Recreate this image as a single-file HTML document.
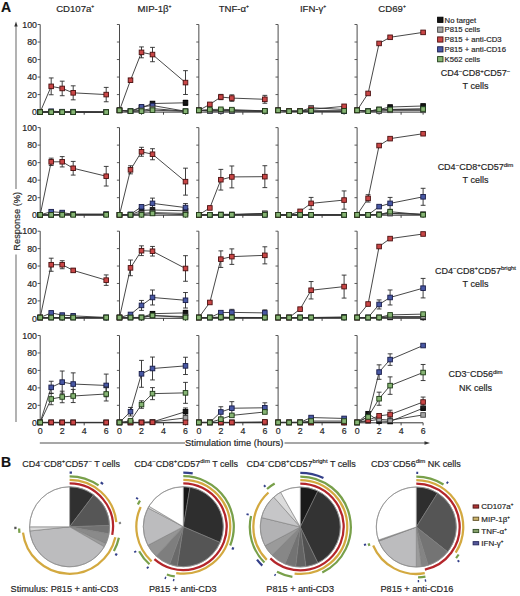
<!DOCTYPE html>
<html><head><meta charset="utf-8"><style>
html,body{margin:0;padding:0;background:#fff;}
svg{display:block;}
text{font-family:"Liberation Sans", sans-serif;stroke:#2a2a2a;stroke-width:0.18px;}
</style></head><body>
<svg width="520" height="596" viewBox="0 0 520 596" font-family="Liberation Sans, sans-serif">
<rect width="520" height="596" fill="#fff"/>
<path d="M40.20 112.10V24.50" stroke="#4a4a4a" stroke-width="1" fill="none"/>
<path d="M37.60 112.10H40.20M37.60 94.58H40.20M37.60 77.06H40.20M37.60 59.54H40.20M37.60 42.02H40.20M37.60 24.50H40.20" stroke="#4a4a4a" stroke-width="0.9" fill="none"/>
<path d="M40.20 112.10H106.20" stroke="#333" stroke-width="1" fill="none"/>
<path d="M62.20 112.10v2.6M84.20 112.10v2.6M106.20 112.10v2.6" stroke="#333" stroke-width="0.9" fill="none"/>
<polyline points="40.20,112.10 51.20,112.10 62.20,112.10 73.20,112.10 106.20,112.10" stroke="#333" stroke-width="0.9" fill="none"/>
<rect x="37.90" y="109.80" width="4.6" height="4.6" fill="#151515" stroke="#000000" stroke-width="0.9"/>
<rect x="48.90" y="109.80" width="4.6" height="4.6" fill="#151515" stroke="#000000" stroke-width="0.9"/>
<rect x="59.90" y="109.80" width="4.6" height="4.6" fill="#151515" stroke="#000000" stroke-width="0.9"/>
<rect x="70.90" y="109.80" width="4.6" height="4.6" fill="#151515" stroke="#000000" stroke-width="0.9"/>
<rect x="103.90" y="109.80" width="4.6" height="4.6" fill="#151515" stroke="#000000" stroke-width="0.9"/>
<polyline points="40.20,112.10 51.20,111.22 62.20,111.66 73.20,111.66 106.20,112.10" stroke="#333" stroke-width="0.9" fill="none"/>
<rect x="37.90" y="109.80" width="4.6" height="4.6" fill="#4858a4" stroke="#181c48" stroke-width="0.9"/>
<rect x="48.90" y="108.92" width="4.6" height="4.6" fill="#4858a4" stroke="#181c48" stroke-width="0.9"/>
<rect x="59.90" y="109.36" width="4.6" height="4.6" fill="#4858a4" stroke="#181c48" stroke-width="0.9"/>
<rect x="70.90" y="109.36" width="4.6" height="4.6" fill="#4858a4" stroke="#181c48" stroke-width="0.9"/>
<rect x="103.90" y="109.80" width="4.6" height="4.6" fill="#4858a4" stroke="#181c48" stroke-width="0.9"/>
<polyline points="40.20,112.10 51.20,112.10 62.20,112.10 73.20,112.10 106.20,112.10" stroke="#333" stroke-width="0.9" fill="none"/>
<rect x="37.90" y="109.80" width="4.6" height="4.6" fill="#a4a4a4" stroke="#444444" stroke-width="0.9"/>
<rect x="48.90" y="109.80" width="4.6" height="4.6" fill="#a4a4a4" stroke="#444444" stroke-width="0.9"/>
<rect x="59.90" y="109.80" width="4.6" height="4.6" fill="#a4a4a4" stroke="#444444" stroke-width="0.9"/>
<rect x="70.90" y="109.80" width="4.6" height="4.6" fill="#a4a4a4" stroke="#444444" stroke-width="0.9"/>
<rect x="103.90" y="109.80" width="4.6" height="4.6" fill="#a4a4a4" stroke="#444444" stroke-width="0.9"/>
<polyline points="40.20,112.10 51.20,86.35 62.20,88.45 73.20,92.83 106.20,94.58" stroke="#333" stroke-width="0.9" fill="none"/>
<path d="M51.20 77.94V94.76M48.80 77.94h4.8M48.80 94.76h4.8M62.20 81.18V95.72M59.80 81.18h4.8M59.80 95.72h4.8M73.20 85.82V99.84M70.80 85.82h4.8M70.80 99.84h4.8M106.20 87.40V101.76M103.80 87.40h4.8M103.80 101.76h4.8" stroke="#2a2a2a" stroke-width="0.9" fill="none"/>
<rect x="37.90" y="109.80" width="4.6" height="4.6" fill="#c94646" stroke="#4a1010" stroke-width="0.9"/>
<rect x="48.90" y="84.05" width="4.6" height="4.6" fill="#c94646" stroke="#4a1010" stroke-width="0.9"/>
<rect x="59.90" y="86.15" width="4.6" height="4.6" fill="#c94646" stroke="#4a1010" stroke-width="0.9"/>
<rect x="70.90" y="90.53" width="4.6" height="4.6" fill="#c94646" stroke="#4a1010" stroke-width="0.9"/>
<rect x="103.90" y="92.28" width="4.6" height="4.6" fill="#c94646" stroke="#4a1010" stroke-width="0.9"/>
<polyline points="40.20,112.10 51.20,112.10 62.20,112.10 73.20,112.10 106.20,112.10" stroke="#333" stroke-width="0.9" fill="none"/>
<rect x="37.90" y="109.80" width="4.6" height="4.6" fill="#86b474" stroke="#1d3a15" stroke-width="0.9"/>
<rect x="48.90" y="109.80" width="4.6" height="4.6" fill="#86b474" stroke="#1d3a15" stroke-width="0.9"/>
<rect x="59.90" y="109.80" width="4.6" height="4.6" fill="#86b474" stroke="#1d3a15" stroke-width="0.9"/>
<rect x="70.90" y="109.80" width="4.6" height="4.6" fill="#86b474" stroke="#1d3a15" stroke-width="0.9"/>
<rect x="103.90" y="109.80" width="4.6" height="4.6" fill="#86b474" stroke="#1d3a15" stroke-width="0.9"/>
<path d="M119.50 112.10V24.50" stroke="#4a4a4a" stroke-width="1" fill="none"/>
<path d="M116.90 112.10H119.50M116.90 94.58H119.50M116.90 77.06H119.50M116.90 59.54H119.50M116.90 42.02H119.50M116.90 24.50H119.50" stroke="#4a4a4a" stroke-width="0.9" fill="none"/>
<path d="M119.50 112.10H185.50" stroke="#333" stroke-width="1" fill="none"/>
<path d="M141.50 112.10v2.6M163.50 112.10v2.6M185.50 112.10v2.6" stroke="#333" stroke-width="0.9" fill="none"/>
<polyline points="119.50,110.35 130.50,111.22 141.50,107.72 152.50,103.52 185.50,102.81" stroke="#333" stroke-width="0.9" fill="none"/>
<path d="M185.50 100.19V105.44M183.10 100.19h4.8M183.10 105.44h4.8" stroke="#2a2a2a" stroke-width="0.9" fill="none"/>
<rect x="117.20" y="108.05" width="4.6" height="4.6" fill="#151515" stroke="#000000" stroke-width="0.9"/>
<rect x="128.20" y="108.92" width="4.6" height="4.6" fill="#151515" stroke="#000000" stroke-width="0.9"/>
<rect x="139.20" y="105.42" width="4.6" height="4.6" fill="#151515" stroke="#000000" stroke-width="0.9"/>
<rect x="150.20" y="101.22" width="4.6" height="4.6" fill="#151515" stroke="#000000" stroke-width="0.9"/>
<rect x="183.20" y="100.51" width="4.6" height="4.6" fill="#151515" stroke="#000000" stroke-width="0.9"/>
<polyline points="119.50,110.35 130.50,111.22 141.50,106.84 152.50,105.53 185.50,111.22" stroke="#333" stroke-width="0.9" fill="none"/>
<path d="M152.50 102.90V108.16M150.10 102.90h4.8M150.10 108.16h4.8" stroke="#2a2a2a" stroke-width="0.9" fill="none"/>
<rect x="117.20" y="108.05" width="4.6" height="4.6" fill="#4858a4" stroke="#181c48" stroke-width="0.9"/>
<rect x="128.20" y="108.92" width="4.6" height="4.6" fill="#4858a4" stroke="#181c48" stroke-width="0.9"/>
<rect x="139.20" y="104.54" width="4.6" height="4.6" fill="#4858a4" stroke="#181c48" stroke-width="0.9"/>
<rect x="150.20" y="103.23" width="4.6" height="4.6" fill="#4858a4" stroke="#181c48" stroke-width="0.9"/>
<rect x="183.20" y="108.92" width="4.6" height="4.6" fill="#4858a4" stroke="#181c48" stroke-width="0.9"/>
<polyline points="119.50,110.35 130.50,111.22 141.50,110.35 152.50,108.60 185.50,111.22" stroke="#333" stroke-width="0.9" fill="none"/>
<rect x="117.20" y="108.05" width="4.6" height="4.6" fill="#a4a4a4" stroke="#444444" stroke-width="0.9"/>
<rect x="128.20" y="108.92" width="4.6" height="4.6" fill="#a4a4a4" stroke="#444444" stroke-width="0.9"/>
<rect x="139.20" y="108.05" width="4.6" height="4.6" fill="#a4a4a4" stroke="#444444" stroke-width="0.9"/>
<rect x="150.20" y="106.30" width="4.6" height="4.6" fill="#a4a4a4" stroke="#444444" stroke-width="0.9"/>
<rect x="183.20" y="108.92" width="4.6" height="4.6" fill="#a4a4a4" stroke="#444444" stroke-width="0.9"/>
<polyline points="119.50,110.35 130.50,80.21 141.50,52.36 152.50,54.55 185.50,82.58" stroke="#333" stroke-width="0.9" fill="none"/>
<path d="M130.50 78.46V81.97M128.10 78.46h4.8M128.10 81.97h4.8M141.50 46.93V57.79M139.10 46.93h4.8M139.10 57.79h4.8M152.50 47.36V61.73M150.10 47.36h4.8M150.10 61.73h4.8M185.50 70.67V94.49M183.10 70.67h4.8M183.10 94.49h4.8" stroke="#2a2a2a" stroke-width="0.9" fill="none"/>
<rect x="117.20" y="108.05" width="4.6" height="4.6" fill="#c94646" stroke="#4a1010" stroke-width="0.9"/>
<rect x="128.20" y="77.91" width="4.6" height="4.6" fill="#c94646" stroke="#4a1010" stroke-width="0.9"/>
<rect x="139.20" y="50.06" width="4.6" height="4.6" fill="#c94646" stroke="#4a1010" stroke-width="0.9"/>
<rect x="150.20" y="52.25" width="4.6" height="4.6" fill="#c94646" stroke="#4a1010" stroke-width="0.9"/>
<rect x="183.20" y="80.28" width="4.6" height="4.6" fill="#c94646" stroke="#4a1010" stroke-width="0.9"/>
<polyline points="119.50,110.35 130.50,111.22 141.50,111.14 152.50,110.17 185.50,111.22" stroke="#333" stroke-width="0.9" fill="none"/>
<rect x="117.20" y="108.05" width="4.6" height="4.6" fill="#86b474" stroke="#1d3a15" stroke-width="0.9"/>
<rect x="128.20" y="108.92" width="4.6" height="4.6" fill="#86b474" stroke="#1d3a15" stroke-width="0.9"/>
<rect x="139.20" y="108.84" width="4.6" height="4.6" fill="#86b474" stroke="#1d3a15" stroke-width="0.9"/>
<rect x="150.20" y="107.87" width="4.6" height="4.6" fill="#86b474" stroke="#1d3a15" stroke-width="0.9"/>
<rect x="183.20" y="108.92" width="4.6" height="4.6" fill="#86b474" stroke="#1d3a15" stroke-width="0.9"/>
<path d="M198.85 112.10V24.50" stroke="#4a4a4a" stroke-width="1" fill="none"/>
<path d="M196.25 112.10H198.85M196.25 94.58H198.85M196.25 77.06H198.85M196.25 59.54H198.85M196.25 42.02H198.85M196.25 24.50H198.85" stroke="#4a4a4a" stroke-width="0.9" fill="none"/>
<path d="M198.85 112.10H264.85" stroke="#333" stroke-width="1" fill="none"/>
<path d="M220.85 112.10v2.6M242.85 112.10v2.6M264.85 112.10v2.6" stroke="#333" stroke-width="0.9" fill="none"/>
<polyline points="198.85,110.35 209.85,110.79 220.85,110.79 231.85,110.79 264.85,111.22" stroke="#333" stroke-width="0.9" fill="none"/>
<rect x="196.55" y="108.05" width="4.6" height="4.6" fill="#151515" stroke="#000000" stroke-width="0.9"/>
<rect x="207.55" y="108.49" width="4.6" height="4.6" fill="#151515" stroke="#000000" stroke-width="0.9"/>
<rect x="218.55" y="108.49" width="4.6" height="4.6" fill="#151515" stroke="#000000" stroke-width="0.9"/>
<rect x="229.55" y="108.49" width="4.6" height="4.6" fill="#151515" stroke="#000000" stroke-width="0.9"/>
<rect x="262.55" y="108.92" width="4.6" height="4.6" fill="#151515" stroke="#000000" stroke-width="0.9"/>
<polyline points="198.85,110.35 209.85,110.79 220.85,110.79 231.85,110.79 264.85,111.22" stroke="#333" stroke-width="0.9" fill="none"/>
<rect x="196.55" y="108.05" width="4.6" height="4.6" fill="#4858a4" stroke="#181c48" stroke-width="0.9"/>
<rect x="207.55" y="108.49" width="4.6" height="4.6" fill="#4858a4" stroke="#181c48" stroke-width="0.9"/>
<rect x="218.55" y="108.49" width="4.6" height="4.6" fill="#4858a4" stroke="#181c48" stroke-width="0.9"/>
<rect x="229.55" y="108.49" width="4.6" height="4.6" fill="#4858a4" stroke="#181c48" stroke-width="0.9"/>
<rect x="262.55" y="108.92" width="4.6" height="4.6" fill="#4858a4" stroke="#181c48" stroke-width="0.9"/>
<polyline points="198.85,110.35 209.85,110.79 220.85,110.79 231.85,110.79 264.85,111.22" stroke="#333" stroke-width="0.9" fill="none"/>
<rect x="196.55" y="108.05" width="4.6" height="4.6" fill="#a4a4a4" stroke="#444444" stroke-width="0.9"/>
<rect x="207.55" y="108.49" width="4.6" height="4.6" fill="#a4a4a4" stroke="#444444" stroke-width="0.9"/>
<rect x="218.55" y="108.49" width="4.6" height="4.6" fill="#a4a4a4" stroke="#444444" stroke-width="0.9"/>
<rect x="229.55" y="108.49" width="4.6" height="4.6" fill="#a4a4a4" stroke="#444444" stroke-width="0.9"/>
<rect x="262.55" y="108.92" width="4.6" height="4.6" fill="#a4a4a4" stroke="#444444" stroke-width="0.9"/>
<polyline points="198.85,110.35 209.85,104.39 220.85,97.03 231.85,98.08 264.85,99.31" stroke="#333" stroke-width="0.9" fill="none"/>
<path d="M220.85 94.40V99.66M218.45 94.40h4.8M218.45 99.66h4.8M231.85 94.84V101.33M229.45 94.84h4.8M229.45 101.33h4.8M264.85 95.37V103.25M262.45 95.37h4.8M262.45 103.25h4.8" stroke="#2a2a2a" stroke-width="0.9" fill="none"/>
<rect x="196.55" y="108.05" width="4.6" height="4.6" fill="#c94646" stroke="#4a1010" stroke-width="0.9"/>
<rect x="207.55" y="102.09" width="4.6" height="4.6" fill="#c94646" stroke="#4a1010" stroke-width="0.9"/>
<rect x="218.55" y="94.73" width="4.6" height="4.6" fill="#c94646" stroke="#4a1010" stroke-width="0.9"/>
<rect x="229.55" y="95.78" width="4.6" height="4.6" fill="#c94646" stroke="#4a1010" stroke-width="0.9"/>
<rect x="262.55" y="97.01" width="4.6" height="4.6" fill="#c94646" stroke="#4a1010" stroke-width="0.9"/>
<polyline points="198.85,110.35 209.85,109.56 220.85,109.30 231.85,109.65 264.85,110.87" stroke="#333" stroke-width="0.9" fill="none"/>
<rect x="196.55" y="108.05" width="4.6" height="4.6" fill="#86b474" stroke="#1d3a15" stroke-width="0.9"/>
<rect x="207.55" y="107.26" width="4.6" height="4.6" fill="#86b474" stroke="#1d3a15" stroke-width="0.9"/>
<rect x="218.55" y="107.00" width="4.6" height="4.6" fill="#86b474" stroke="#1d3a15" stroke-width="0.9"/>
<rect x="229.55" y="107.35" width="4.6" height="4.6" fill="#86b474" stroke="#1d3a15" stroke-width="0.9"/>
<rect x="262.55" y="108.57" width="4.6" height="4.6" fill="#86b474" stroke="#1d3a15" stroke-width="0.9"/>
<path d="M278.10 112.10V24.50" stroke="#4a4a4a" stroke-width="1" fill="none"/>
<path d="M275.50 112.10H278.10M275.50 94.58H278.10M275.50 77.06H278.10M275.50 59.54H278.10M275.50 42.02H278.10M275.50 24.50H278.10" stroke="#4a4a4a" stroke-width="0.9" fill="none"/>
<path d="M278.10 112.10H344.10" stroke="#333" stroke-width="1" fill="none"/>
<path d="M300.10 112.10v2.6M322.10 112.10v2.6M344.10 112.10v2.6" stroke="#333" stroke-width="0.9" fill="none"/>
<polyline points="278.10,110.35 289.10,111.22 300.10,111.22 311.10,111.22 344.10,111.22" stroke="#333" stroke-width="0.9" fill="none"/>
<rect x="275.80" y="108.05" width="4.6" height="4.6" fill="#151515" stroke="#000000" stroke-width="0.9"/>
<rect x="286.80" y="108.92" width="4.6" height="4.6" fill="#151515" stroke="#000000" stroke-width="0.9"/>
<rect x="297.80" y="108.92" width="4.6" height="4.6" fill="#151515" stroke="#000000" stroke-width="0.9"/>
<rect x="308.80" y="108.92" width="4.6" height="4.6" fill="#151515" stroke="#000000" stroke-width="0.9"/>
<rect x="341.80" y="108.92" width="4.6" height="4.6" fill="#151515" stroke="#000000" stroke-width="0.9"/>
<polyline points="278.10,110.35 289.10,111.22 300.10,111.22 311.10,111.22 344.10,111.22" stroke="#333" stroke-width="0.9" fill="none"/>
<rect x="275.80" y="108.05" width="4.6" height="4.6" fill="#4858a4" stroke="#181c48" stroke-width="0.9"/>
<rect x="286.80" y="108.92" width="4.6" height="4.6" fill="#4858a4" stroke="#181c48" stroke-width="0.9"/>
<rect x="297.80" y="108.92" width="4.6" height="4.6" fill="#4858a4" stroke="#181c48" stroke-width="0.9"/>
<rect x="308.80" y="108.92" width="4.6" height="4.6" fill="#4858a4" stroke="#181c48" stroke-width="0.9"/>
<rect x="341.80" y="108.92" width="4.6" height="4.6" fill="#4858a4" stroke="#181c48" stroke-width="0.9"/>
<polyline points="278.10,110.35 289.10,111.22 300.10,111.22 311.10,107.72 344.10,109.47" stroke="#333" stroke-width="0.9" fill="none"/>
<rect x="275.80" y="108.05" width="4.6" height="4.6" fill="#a4a4a4" stroke="#444444" stroke-width="0.9"/>
<rect x="286.80" y="108.92" width="4.6" height="4.6" fill="#a4a4a4" stroke="#444444" stroke-width="0.9"/>
<rect x="297.80" y="108.92" width="4.6" height="4.6" fill="#a4a4a4" stroke="#444444" stroke-width="0.9"/>
<rect x="308.80" y="105.42" width="4.6" height="4.6" fill="#a4a4a4" stroke="#444444" stroke-width="0.9"/>
<rect x="341.80" y="107.17" width="4.6" height="4.6" fill="#a4a4a4" stroke="#444444" stroke-width="0.9"/>
<polyline points="278.10,110.35 289.10,111.22 300.10,111.22 311.10,109.30 344.10,106.32" stroke="#333" stroke-width="0.9" fill="none"/>
<rect x="275.80" y="108.05" width="4.6" height="4.6" fill="#c94646" stroke="#4a1010" stroke-width="0.9"/>
<rect x="286.80" y="108.92" width="4.6" height="4.6" fill="#c94646" stroke="#4a1010" stroke-width="0.9"/>
<rect x="297.80" y="108.92" width="4.6" height="4.6" fill="#c94646" stroke="#4a1010" stroke-width="0.9"/>
<rect x="308.80" y="107.00" width="4.6" height="4.6" fill="#c94646" stroke="#4a1010" stroke-width="0.9"/>
<rect x="341.80" y="104.02" width="4.6" height="4.6" fill="#c94646" stroke="#4a1010" stroke-width="0.9"/>
<polyline points="278.10,110.35 289.10,111.22 300.10,111.22 311.10,110.79 344.10,110.87" stroke="#333" stroke-width="0.9" fill="none"/>
<rect x="275.80" y="108.05" width="4.6" height="4.6" fill="#86b474" stroke="#1d3a15" stroke-width="0.9"/>
<rect x="286.80" y="108.92" width="4.6" height="4.6" fill="#86b474" stroke="#1d3a15" stroke-width="0.9"/>
<rect x="297.80" y="108.92" width="4.6" height="4.6" fill="#86b474" stroke="#1d3a15" stroke-width="0.9"/>
<rect x="308.80" y="108.49" width="4.6" height="4.6" fill="#86b474" stroke="#1d3a15" stroke-width="0.9"/>
<rect x="341.80" y="108.57" width="4.6" height="4.6" fill="#86b474" stroke="#1d3a15" stroke-width="0.9"/>
<path d="M357.10 112.10V24.50" stroke="#4a4a4a" stroke-width="1" fill="none"/>
<path d="M354.50 112.10H357.10M354.50 94.58H357.10M354.50 77.06H357.10M354.50 59.54H357.10M354.50 42.02H357.10M354.50 24.50H357.10" stroke="#4a4a4a" stroke-width="0.9" fill="none"/>
<path d="M357.10 112.10H423.10" stroke="#333" stroke-width="1" fill="none"/>
<path d="M379.10 112.10v2.6M401.10 112.10v2.6M423.10 112.10v2.6" stroke="#333" stroke-width="0.9" fill="none"/>
<polyline points="357.10,110.35 368.10,111.22 379.10,109.47 390.10,107.02 423.10,105.97" stroke="#333" stroke-width="0.9" fill="none"/>
<rect x="354.80" y="108.05" width="4.6" height="4.6" fill="#151515" stroke="#000000" stroke-width="0.9"/>
<rect x="365.80" y="108.92" width="4.6" height="4.6" fill="#151515" stroke="#000000" stroke-width="0.9"/>
<rect x="376.80" y="107.17" width="4.6" height="4.6" fill="#151515" stroke="#000000" stroke-width="0.9"/>
<rect x="387.80" y="104.72" width="4.6" height="4.6" fill="#151515" stroke="#000000" stroke-width="0.9"/>
<rect x="420.80" y="103.67" width="4.6" height="4.6" fill="#151515" stroke="#000000" stroke-width="0.9"/>
<polyline points="357.10,110.35 368.10,111.22 379.10,110.35 390.10,109.47 423.10,109.03" stroke="#333" stroke-width="0.9" fill="none"/>
<rect x="354.80" y="108.05" width="4.6" height="4.6" fill="#4858a4" stroke="#181c48" stroke-width="0.9"/>
<rect x="365.80" y="108.92" width="4.6" height="4.6" fill="#4858a4" stroke="#181c48" stroke-width="0.9"/>
<rect x="376.80" y="108.05" width="4.6" height="4.6" fill="#4858a4" stroke="#181c48" stroke-width="0.9"/>
<rect x="387.80" y="107.17" width="4.6" height="4.6" fill="#4858a4" stroke="#181c48" stroke-width="0.9"/>
<rect x="420.80" y="106.73" width="4.6" height="4.6" fill="#4858a4" stroke="#181c48" stroke-width="0.9"/>
<polyline points="357.10,110.35 368.10,111.22 379.10,111.22 390.10,110.35 423.10,110.35" stroke="#333" stroke-width="0.9" fill="none"/>
<rect x="354.80" y="108.05" width="4.6" height="4.6" fill="#a4a4a4" stroke="#444444" stroke-width="0.9"/>
<rect x="365.80" y="108.92" width="4.6" height="4.6" fill="#a4a4a4" stroke="#444444" stroke-width="0.9"/>
<rect x="376.80" y="108.92" width="4.6" height="4.6" fill="#a4a4a4" stroke="#444444" stroke-width="0.9"/>
<rect x="387.80" y="108.05" width="4.6" height="4.6" fill="#a4a4a4" stroke="#444444" stroke-width="0.9"/>
<rect x="420.80" y="108.05" width="4.6" height="4.6" fill="#a4a4a4" stroke="#444444" stroke-width="0.9"/>
<polyline points="357.10,110.35 368.10,93.44 379.10,43.42 390.10,37.29 423.10,32.38" stroke="#333" stroke-width="0.9" fill="none"/>
<rect x="354.80" y="108.05" width="4.6" height="4.6" fill="#c94646" stroke="#4a1010" stroke-width="0.9"/>
<rect x="365.80" y="91.14" width="4.6" height="4.6" fill="#c94646" stroke="#4a1010" stroke-width="0.9"/>
<rect x="376.80" y="41.12" width="4.6" height="4.6" fill="#c94646" stroke="#4a1010" stroke-width="0.9"/>
<rect x="387.80" y="34.99" width="4.6" height="4.6" fill="#c94646" stroke="#4a1010" stroke-width="0.9"/>
<rect x="420.80" y="30.08" width="4.6" height="4.6" fill="#c94646" stroke="#4a1010" stroke-width="0.9"/>
<polyline points="357.10,110.35 368.10,111.22 379.10,109.47 390.10,109.47 423.10,109.03" stroke="#333" stroke-width="0.9" fill="none"/>
<rect x="354.80" y="108.05" width="4.6" height="4.6" fill="#86b474" stroke="#1d3a15" stroke-width="0.9"/>
<rect x="365.80" y="108.92" width="4.6" height="4.6" fill="#86b474" stroke="#1d3a15" stroke-width="0.9"/>
<rect x="376.80" y="107.17" width="4.6" height="4.6" fill="#86b474" stroke="#1d3a15" stroke-width="0.9"/>
<rect x="387.80" y="107.17" width="4.6" height="4.6" fill="#86b474" stroke="#1d3a15" stroke-width="0.9"/>
<rect x="420.80" y="106.73" width="4.6" height="4.6" fill="#86b474" stroke="#1d3a15" stroke-width="0.9"/>
<path d="M40.20 215.20V127.60" stroke="#4a4a4a" stroke-width="1" fill="none"/>
<path d="M37.60 215.20H40.20M37.60 197.68H40.20M37.60 180.16H40.20M37.60 162.64H40.20M37.60 145.12H40.20M37.60 127.60H40.20" stroke="#4a4a4a" stroke-width="0.9" fill="none"/>
<path d="M40.20 215.20H106.20" stroke="#333" stroke-width="1" fill="none"/>
<path d="M62.20 215.20v2.6M84.20 215.20v2.6M106.20 215.20v2.6" stroke="#333" stroke-width="0.9" fill="none"/>
<polyline points="40.20,214.85 51.20,214.85 62.20,214.32 73.20,214.32 106.20,214.32" stroke="#333" stroke-width="0.9" fill="none"/>
<rect x="37.90" y="212.55" width="4.6" height="4.6" fill="#151515" stroke="#000000" stroke-width="0.9"/>
<rect x="48.90" y="212.55" width="4.6" height="4.6" fill="#151515" stroke="#000000" stroke-width="0.9"/>
<rect x="59.90" y="212.02" width="4.6" height="4.6" fill="#151515" stroke="#000000" stroke-width="0.9"/>
<rect x="70.90" y="212.02" width="4.6" height="4.6" fill="#151515" stroke="#000000" stroke-width="0.9"/>
<rect x="103.90" y="212.02" width="4.6" height="4.6" fill="#151515" stroke="#000000" stroke-width="0.9"/>
<polyline points="40.20,214.85 51.20,211.70 62.20,212.57 73.20,214.32 106.20,214.32" stroke="#333" stroke-width="0.9" fill="none"/>
<rect x="37.90" y="212.55" width="4.6" height="4.6" fill="#4858a4" stroke="#181c48" stroke-width="0.9"/>
<rect x="48.90" y="209.40" width="4.6" height="4.6" fill="#4858a4" stroke="#181c48" stroke-width="0.9"/>
<rect x="59.90" y="210.27" width="4.6" height="4.6" fill="#4858a4" stroke="#181c48" stroke-width="0.9"/>
<rect x="70.90" y="212.02" width="4.6" height="4.6" fill="#4858a4" stroke="#181c48" stroke-width="0.9"/>
<rect x="103.90" y="212.02" width="4.6" height="4.6" fill="#4858a4" stroke="#181c48" stroke-width="0.9"/>
<polyline points="40.20,214.85 51.20,214.85 62.20,214.32 73.20,214.32 106.20,214.32" stroke="#333" stroke-width="0.9" fill="none"/>
<rect x="37.90" y="212.55" width="4.6" height="4.6" fill="#a4a4a4" stroke="#444444" stroke-width="0.9"/>
<rect x="48.90" y="212.55" width="4.6" height="4.6" fill="#a4a4a4" stroke="#444444" stroke-width="0.9"/>
<rect x="59.90" y="212.02" width="4.6" height="4.6" fill="#a4a4a4" stroke="#444444" stroke-width="0.9"/>
<rect x="70.90" y="212.02" width="4.6" height="4.6" fill="#a4a4a4" stroke="#444444" stroke-width="0.9"/>
<rect x="103.90" y="212.02" width="4.6" height="4.6" fill="#a4a4a4" stroke="#444444" stroke-width="0.9"/>
<polyline points="40.20,214.85 51.20,161.85 62.20,161.76 73.20,168.25 106.20,176.22" stroke="#333" stroke-width="0.9" fill="none"/>
<path d="M51.20 158.17V165.53M48.80 158.17h4.8M48.80 165.53h4.8M62.20 156.60V166.93M59.80 156.60h4.8M59.80 166.93h4.8M73.20 161.41V175.08M70.80 161.41h4.8M70.80 175.08h4.8M106.20 166.41V186.03M103.80 166.41h4.8M103.80 186.03h4.8" stroke="#2a2a2a" stroke-width="0.9" fill="none"/>
<rect x="37.90" y="212.55" width="4.6" height="4.6" fill="#c94646" stroke="#4a1010" stroke-width="0.9"/>
<rect x="48.90" y="159.55" width="4.6" height="4.6" fill="#c94646" stroke="#4a1010" stroke-width="0.9"/>
<rect x="59.90" y="159.46" width="4.6" height="4.6" fill="#c94646" stroke="#4a1010" stroke-width="0.9"/>
<rect x="70.90" y="165.95" width="4.6" height="4.6" fill="#c94646" stroke="#4a1010" stroke-width="0.9"/>
<rect x="103.90" y="173.92" width="4.6" height="4.6" fill="#c94646" stroke="#4a1010" stroke-width="0.9"/>
<polyline points="40.20,214.85 51.20,214.85 62.20,214.85 73.20,214.85 106.20,214.85" stroke="#333" stroke-width="0.9" fill="none"/>
<rect x="37.90" y="212.55" width="4.6" height="4.6" fill="#86b474" stroke="#1d3a15" stroke-width="0.9"/>
<rect x="48.90" y="212.55" width="4.6" height="4.6" fill="#86b474" stroke="#1d3a15" stroke-width="0.9"/>
<rect x="59.90" y="212.55" width="4.6" height="4.6" fill="#86b474" stroke="#1d3a15" stroke-width="0.9"/>
<rect x="70.90" y="212.55" width="4.6" height="4.6" fill="#86b474" stroke="#1d3a15" stroke-width="0.9"/>
<rect x="103.90" y="212.55" width="4.6" height="4.6" fill="#86b474" stroke="#1d3a15" stroke-width="0.9"/>
<path d="M119.50 215.20V127.60" stroke="#4a4a4a" stroke-width="1" fill="none"/>
<path d="M116.90 215.20H119.50M116.90 197.68H119.50M116.90 180.16H119.50M116.90 162.64H119.50M116.90 145.12H119.50M116.90 127.60H119.50" stroke="#4a4a4a" stroke-width="0.9" fill="none"/>
<path d="M119.50 215.20H185.50" stroke="#333" stroke-width="1" fill="none"/>
<path d="M141.50 215.20v2.6M163.50 215.20v2.6M185.50 215.20v2.6" stroke="#333" stroke-width="0.9" fill="none"/>
<polyline points="119.50,214.85 130.50,214.85 141.50,210.38 152.50,209.94 185.50,210.82" stroke="#333" stroke-width="0.9" fill="none"/>
<rect x="117.20" y="212.55" width="4.6" height="4.6" fill="#151515" stroke="#000000" stroke-width="0.9"/>
<rect x="128.20" y="212.55" width="4.6" height="4.6" fill="#151515" stroke="#000000" stroke-width="0.9"/>
<rect x="139.20" y="208.08" width="4.6" height="4.6" fill="#151515" stroke="#000000" stroke-width="0.9"/>
<rect x="150.20" y="207.64" width="4.6" height="4.6" fill="#151515" stroke="#000000" stroke-width="0.9"/>
<rect x="183.20" y="208.52" width="4.6" height="4.6" fill="#151515" stroke="#000000" stroke-width="0.9"/>
<polyline points="119.50,214.85 130.50,214.32 141.50,206.79 152.50,203.37 185.50,207.58" stroke="#333" stroke-width="0.9" fill="none"/>
<path d="M152.50 198.12V208.63M150.10 198.12h4.8M150.10 208.63h4.8M185.50 203.55V211.61M183.10 203.55h4.8M183.10 211.61h4.8" stroke="#2a2a2a" stroke-width="0.9" fill="none"/>
<rect x="117.20" y="212.55" width="4.6" height="4.6" fill="#4858a4" stroke="#181c48" stroke-width="0.9"/>
<rect x="128.20" y="212.02" width="4.6" height="4.6" fill="#4858a4" stroke="#181c48" stroke-width="0.9"/>
<rect x="139.20" y="204.49" width="4.6" height="4.6" fill="#4858a4" stroke="#181c48" stroke-width="0.9"/>
<rect x="150.20" y="201.07" width="4.6" height="4.6" fill="#4858a4" stroke="#181c48" stroke-width="0.9"/>
<rect x="183.20" y="205.28" width="4.6" height="4.6" fill="#4858a4" stroke="#181c48" stroke-width="0.9"/>
<polyline points="119.50,214.85 130.50,214.85 141.50,213.45 152.50,212.57 185.50,213.45" stroke="#333" stroke-width="0.9" fill="none"/>
<rect x="117.20" y="212.55" width="4.6" height="4.6" fill="#a4a4a4" stroke="#444444" stroke-width="0.9"/>
<rect x="128.20" y="212.55" width="4.6" height="4.6" fill="#a4a4a4" stroke="#444444" stroke-width="0.9"/>
<rect x="139.20" y="211.15" width="4.6" height="4.6" fill="#a4a4a4" stroke="#444444" stroke-width="0.9"/>
<rect x="150.20" y="210.27" width="4.6" height="4.6" fill="#a4a4a4" stroke="#444444" stroke-width="0.9"/>
<rect x="183.20" y="211.15" width="4.6" height="4.6" fill="#a4a4a4" stroke="#444444" stroke-width="0.9"/>
<polyline points="119.50,214.85 130.50,169.82 141.50,151.78 152.50,154.23 185.50,181.65" stroke="#333" stroke-width="0.9" fill="none"/>
<path d="M130.50 165.79V173.85M128.10 165.79h4.8M128.10 173.85h4.8M141.50 147.31V156.25M139.10 147.31h4.8M139.10 156.25h4.8M152.50 148.71V159.75M150.10 148.71h4.8M150.10 159.75h4.8M185.50 168.16V195.14M183.10 168.16h4.8M183.10 195.14h4.8" stroke="#2a2a2a" stroke-width="0.9" fill="none"/>
<rect x="117.20" y="212.55" width="4.6" height="4.6" fill="#c94646" stroke="#4a1010" stroke-width="0.9"/>
<rect x="128.20" y="167.52" width="4.6" height="4.6" fill="#c94646" stroke="#4a1010" stroke-width="0.9"/>
<rect x="139.20" y="149.48" width="4.6" height="4.6" fill="#c94646" stroke="#4a1010" stroke-width="0.9"/>
<rect x="150.20" y="151.93" width="4.6" height="4.6" fill="#c94646" stroke="#4a1010" stroke-width="0.9"/>
<rect x="183.20" y="179.35" width="4.6" height="4.6" fill="#c94646" stroke="#4a1010" stroke-width="0.9"/>
<polyline points="119.50,214.85 130.50,214.85 141.50,214.85 152.50,213.45 185.50,214.76" stroke="#333" stroke-width="0.9" fill="none"/>
<rect x="117.20" y="212.55" width="4.6" height="4.6" fill="#86b474" stroke="#1d3a15" stroke-width="0.9"/>
<rect x="128.20" y="212.55" width="4.6" height="4.6" fill="#86b474" stroke="#1d3a15" stroke-width="0.9"/>
<rect x="139.20" y="212.55" width="4.6" height="4.6" fill="#86b474" stroke="#1d3a15" stroke-width="0.9"/>
<rect x="150.20" y="211.15" width="4.6" height="4.6" fill="#86b474" stroke="#1d3a15" stroke-width="0.9"/>
<rect x="183.20" y="212.46" width="4.6" height="4.6" fill="#86b474" stroke="#1d3a15" stroke-width="0.9"/>
<path d="M198.85 215.20V127.60" stroke="#4a4a4a" stroke-width="1" fill="none"/>
<path d="M196.25 215.20H198.85M196.25 197.68H198.85M196.25 180.16H198.85M196.25 162.64H198.85M196.25 145.12H198.85M196.25 127.60H198.85" stroke="#4a4a4a" stroke-width="0.9" fill="none"/>
<path d="M198.85 215.20H264.85" stroke="#333" stroke-width="1" fill="none"/>
<path d="M220.85 215.20v2.6M242.85 215.20v2.6M264.85 215.20v2.6" stroke="#333" stroke-width="0.9" fill="none"/>
<polyline points="198.85,214.85 209.85,214.85 220.85,214.85 231.85,214.85 264.85,213.45" stroke="#333" stroke-width="0.9" fill="none"/>
<rect x="196.55" y="212.55" width="4.6" height="4.6" fill="#151515" stroke="#000000" stroke-width="0.9"/>
<rect x="207.55" y="212.55" width="4.6" height="4.6" fill="#151515" stroke="#000000" stroke-width="0.9"/>
<rect x="218.55" y="212.55" width="4.6" height="4.6" fill="#151515" stroke="#000000" stroke-width="0.9"/>
<rect x="229.55" y="212.55" width="4.6" height="4.6" fill="#151515" stroke="#000000" stroke-width="0.9"/>
<rect x="262.55" y="211.15" width="4.6" height="4.6" fill="#151515" stroke="#000000" stroke-width="0.9"/>
<polyline points="198.85,214.85 209.85,214.85 220.85,214.85 231.85,214.85 264.85,214.85" stroke="#333" stroke-width="0.9" fill="none"/>
<rect x="196.55" y="212.55" width="4.6" height="4.6" fill="#4858a4" stroke="#181c48" stroke-width="0.9"/>
<rect x="207.55" y="212.55" width="4.6" height="4.6" fill="#4858a4" stroke="#181c48" stroke-width="0.9"/>
<rect x="218.55" y="212.55" width="4.6" height="4.6" fill="#4858a4" stroke="#181c48" stroke-width="0.9"/>
<rect x="229.55" y="212.55" width="4.6" height="4.6" fill="#4858a4" stroke="#181c48" stroke-width="0.9"/>
<rect x="262.55" y="212.55" width="4.6" height="4.6" fill="#4858a4" stroke="#181c48" stroke-width="0.9"/>
<polyline points="198.85,214.85 209.85,214.85 220.85,214.32 231.85,214.32 264.85,213.45" stroke="#333" stroke-width="0.9" fill="none"/>
<rect x="196.55" y="212.55" width="4.6" height="4.6" fill="#a4a4a4" stroke="#444444" stroke-width="0.9"/>
<rect x="207.55" y="212.55" width="4.6" height="4.6" fill="#a4a4a4" stroke="#444444" stroke-width="0.9"/>
<rect x="218.55" y="212.02" width="4.6" height="4.6" fill="#a4a4a4" stroke="#444444" stroke-width="0.9"/>
<rect x="229.55" y="212.02" width="4.6" height="4.6" fill="#a4a4a4" stroke="#444444" stroke-width="0.9"/>
<rect x="262.55" y="211.15" width="4.6" height="4.6" fill="#a4a4a4" stroke="#444444" stroke-width="0.9"/>
<polyline points="198.85,214.85 209.85,207.93 220.85,179.72 231.85,176.92 264.85,176.66" stroke="#333" stroke-width="0.9" fill="none"/>
<path d="M220.85 169.39V190.06M218.45 169.39h4.8M218.45 190.06h4.8M231.85 165.97V187.87M229.45 165.97h4.8M229.45 187.87h4.8M264.85 165.71V187.61M262.45 165.71h4.8M262.45 187.61h4.8" stroke="#2a2a2a" stroke-width="0.9" fill="none"/>
<rect x="196.55" y="212.55" width="4.6" height="4.6" fill="#c94646" stroke="#4a1010" stroke-width="0.9"/>
<rect x="207.55" y="205.63" width="4.6" height="4.6" fill="#c94646" stroke="#4a1010" stroke-width="0.9"/>
<rect x="218.55" y="177.42" width="4.6" height="4.6" fill="#c94646" stroke="#4a1010" stroke-width="0.9"/>
<rect x="229.55" y="174.62" width="4.6" height="4.6" fill="#c94646" stroke="#4a1010" stroke-width="0.9"/>
<rect x="262.55" y="174.36" width="4.6" height="4.6" fill="#c94646" stroke="#4a1010" stroke-width="0.9"/>
<polyline points="198.85,214.85 209.85,214.85 220.85,214.85 231.85,214.85 264.85,214.85" stroke="#333" stroke-width="0.9" fill="none"/>
<rect x="196.55" y="212.55" width="4.6" height="4.6" fill="#86b474" stroke="#1d3a15" stroke-width="0.9"/>
<rect x="207.55" y="212.55" width="4.6" height="4.6" fill="#86b474" stroke="#1d3a15" stroke-width="0.9"/>
<rect x="218.55" y="212.55" width="4.6" height="4.6" fill="#86b474" stroke="#1d3a15" stroke-width="0.9"/>
<rect x="229.55" y="212.55" width="4.6" height="4.6" fill="#86b474" stroke="#1d3a15" stroke-width="0.9"/>
<rect x="262.55" y="212.55" width="4.6" height="4.6" fill="#86b474" stroke="#1d3a15" stroke-width="0.9"/>
<path d="M278.10 215.20V127.60" stroke="#4a4a4a" stroke-width="1" fill="none"/>
<path d="M275.50 215.20H278.10M275.50 197.68H278.10M275.50 180.16H278.10M275.50 162.64H278.10M275.50 145.12H278.10M275.50 127.60H278.10" stroke="#4a4a4a" stroke-width="0.9" fill="none"/>
<path d="M278.10 215.20H344.10" stroke="#333" stroke-width="1" fill="none"/>
<path d="M300.10 215.20v2.6M322.10 215.20v2.6M344.10 215.20v2.6" stroke="#333" stroke-width="0.9" fill="none"/>
<polyline points="278.10,214.85 289.10,214.85 300.10,214.85 311.10,214.85 344.10,214.85" stroke="#333" stroke-width="0.9" fill="none"/>
<rect x="275.80" y="212.55" width="4.6" height="4.6" fill="#151515" stroke="#000000" stroke-width="0.9"/>
<rect x="286.80" y="212.55" width="4.6" height="4.6" fill="#151515" stroke="#000000" stroke-width="0.9"/>
<rect x="297.80" y="212.55" width="4.6" height="4.6" fill="#151515" stroke="#000000" stroke-width="0.9"/>
<rect x="308.80" y="212.55" width="4.6" height="4.6" fill="#151515" stroke="#000000" stroke-width="0.9"/>
<rect x="341.80" y="212.55" width="4.6" height="4.6" fill="#151515" stroke="#000000" stroke-width="0.9"/>
<polyline points="278.10,214.85 289.10,214.85 300.10,214.85 311.10,214.85 344.10,214.85" stroke="#333" stroke-width="0.9" fill="none"/>
<rect x="275.80" y="212.55" width="4.6" height="4.6" fill="#4858a4" stroke="#181c48" stroke-width="0.9"/>
<rect x="286.80" y="212.55" width="4.6" height="4.6" fill="#4858a4" stroke="#181c48" stroke-width="0.9"/>
<rect x="297.80" y="212.55" width="4.6" height="4.6" fill="#4858a4" stroke="#181c48" stroke-width="0.9"/>
<rect x="308.80" y="212.55" width="4.6" height="4.6" fill="#4858a4" stroke="#181c48" stroke-width="0.9"/>
<rect x="341.80" y="212.55" width="4.6" height="4.6" fill="#4858a4" stroke="#181c48" stroke-width="0.9"/>
<polyline points="278.10,214.85 289.10,214.85 300.10,214.85 311.10,214.85 344.10,214.85" stroke="#333" stroke-width="0.9" fill="none"/>
<rect x="275.80" y="212.55" width="4.6" height="4.6" fill="#a4a4a4" stroke="#444444" stroke-width="0.9"/>
<rect x="286.80" y="212.55" width="4.6" height="4.6" fill="#a4a4a4" stroke="#444444" stroke-width="0.9"/>
<rect x="297.80" y="212.55" width="4.6" height="4.6" fill="#a4a4a4" stroke="#444444" stroke-width="0.9"/>
<rect x="308.80" y="212.55" width="4.6" height="4.6" fill="#a4a4a4" stroke="#444444" stroke-width="0.9"/>
<rect x="341.80" y="212.55" width="4.6" height="4.6" fill="#a4a4a4" stroke="#444444" stroke-width="0.9"/>
<polyline points="278.10,214.85 289.10,214.85 300.10,211.35 311.10,203.37 344.10,200.05" stroke="#333" stroke-width="0.9" fill="none"/>
<path d="M311.10 197.42V209.33M308.70 197.42h4.8M308.70 209.33h4.8M344.10 190.93V209.16M341.70 190.93h4.8M341.70 209.16h4.8" stroke="#2a2a2a" stroke-width="0.9" fill="none"/>
<rect x="275.80" y="212.55" width="4.6" height="4.6" fill="#c94646" stroke="#4a1010" stroke-width="0.9"/>
<rect x="286.80" y="212.55" width="4.6" height="4.6" fill="#c94646" stroke="#4a1010" stroke-width="0.9"/>
<rect x="297.80" y="209.05" width="4.6" height="4.6" fill="#c94646" stroke="#4a1010" stroke-width="0.9"/>
<rect x="308.80" y="201.07" width="4.6" height="4.6" fill="#c94646" stroke="#4a1010" stroke-width="0.9"/>
<rect x="341.80" y="197.75" width="4.6" height="4.6" fill="#c94646" stroke="#4a1010" stroke-width="0.9"/>
<polyline points="278.10,214.85 289.10,214.85 300.10,214.85 311.10,214.85 344.10,214.85" stroke="#333" stroke-width="0.9" fill="none"/>
<rect x="275.80" y="212.55" width="4.6" height="4.6" fill="#86b474" stroke="#1d3a15" stroke-width="0.9"/>
<rect x="286.80" y="212.55" width="4.6" height="4.6" fill="#86b474" stroke="#1d3a15" stroke-width="0.9"/>
<rect x="297.80" y="212.55" width="4.6" height="4.6" fill="#86b474" stroke="#1d3a15" stroke-width="0.9"/>
<rect x="308.80" y="212.55" width="4.6" height="4.6" fill="#86b474" stroke="#1d3a15" stroke-width="0.9"/>
<rect x="341.80" y="212.55" width="4.6" height="4.6" fill="#86b474" stroke="#1d3a15" stroke-width="0.9"/>
<path d="M357.10 215.20V127.60" stroke="#4a4a4a" stroke-width="1" fill="none"/>
<path d="M354.50 215.20H357.10M354.50 197.68H357.10M354.50 180.16H357.10M354.50 162.64H357.10M354.50 145.12H357.10M354.50 127.60H357.10" stroke="#4a4a4a" stroke-width="0.9" fill="none"/>
<path d="M357.10 215.20H423.10" stroke="#333" stroke-width="1" fill="none"/>
<path d="M379.10 215.20v2.6M401.10 215.20v2.6M423.10 215.20v2.6" stroke="#333" stroke-width="0.9" fill="none"/>
<polyline points="357.10,214.85 368.10,214.85 379.10,214.32 390.10,213.45 423.10,214.32" stroke="#333" stroke-width="0.9" fill="none"/>
<rect x="354.80" y="212.55" width="4.6" height="4.6" fill="#151515" stroke="#000000" stroke-width="0.9"/>
<rect x="365.80" y="212.55" width="4.6" height="4.6" fill="#151515" stroke="#000000" stroke-width="0.9"/>
<rect x="376.80" y="212.02" width="4.6" height="4.6" fill="#151515" stroke="#000000" stroke-width="0.9"/>
<rect x="387.80" y="211.15" width="4.6" height="4.6" fill="#151515" stroke="#000000" stroke-width="0.9"/>
<rect x="420.80" y="212.02" width="4.6" height="4.6" fill="#151515" stroke="#000000" stroke-width="0.9"/>
<polyline points="357.10,214.85 368.10,214.85 379.10,206.62 390.10,203.37 423.10,196.80" stroke="#333" stroke-width="0.9" fill="none"/>
<path d="M390.10 197.42V209.33M387.70 197.42h4.8M387.70 209.33h4.8M423.10 188.31V205.30M420.70 188.31h4.8M420.70 205.30h4.8" stroke="#2a2a2a" stroke-width="0.9" fill="none"/>
<rect x="354.80" y="212.55" width="4.6" height="4.6" fill="#4858a4" stroke="#181c48" stroke-width="0.9"/>
<rect x="365.80" y="212.55" width="4.6" height="4.6" fill="#4858a4" stroke="#181c48" stroke-width="0.9"/>
<rect x="376.80" y="204.32" width="4.6" height="4.6" fill="#4858a4" stroke="#181c48" stroke-width="0.9"/>
<rect x="387.80" y="201.07" width="4.6" height="4.6" fill="#4858a4" stroke="#181c48" stroke-width="0.9"/>
<rect x="420.80" y="194.50" width="4.6" height="4.6" fill="#4858a4" stroke="#181c48" stroke-width="0.9"/>
<polyline points="357.10,214.85 368.10,214.85 379.10,214.32 390.10,213.45 423.10,214.32" stroke="#333" stroke-width="0.9" fill="none"/>
<rect x="354.80" y="212.55" width="4.6" height="4.6" fill="#a4a4a4" stroke="#444444" stroke-width="0.9"/>
<rect x="365.80" y="212.55" width="4.6" height="4.6" fill="#a4a4a4" stroke="#444444" stroke-width="0.9"/>
<rect x="376.80" y="212.02" width="4.6" height="4.6" fill="#a4a4a4" stroke="#444444" stroke-width="0.9"/>
<rect x="387.80" y="211.15" width="4.6" height="4.6" fill="#a4a4a4" stroke="#444444" stroke-width="0.9"/>
<rect x="420.80" y="212.02" width="4.6" height="4.6" fill="#a4a4a4" stroke="#444444" stroke-width="0.9"/>
<polyline points="357.10,214.85 368.10,198.38 379.10,145.56 390.10,138.64 423.10,133.73" stroke="#333" stroke-width="0.9" fill="none"/>
<path d="M368.10 194.70V202.06M365.70 194.70h4.8M365.70 202.06h4.8" stroke="#2a2a2a" stroke-width="0.9" fill="none"/>
<rect x="354.80" y="212.55" width="4.6" height="4.6" fill="#c94646" stroke="#4a1010" stroke-width="0.9"/>
<rect x="365.80" y="196.08" width="4.6" height="4.6" fill="#c94646" stroke="#4a1010" stroke-width="0.9"/>
<rect x="376.80" y="143.26" width="4.6" height="4.6" fill="#c94646" stroke="#4a1010" stroke-width="0.9"/>
<rect x="387.80" y="136.34" width="4.6" height="4.6" fill="#c94646" stroke="#4a1010" stroke-width="0.9"/>
<rect x="420.80" y="131.43" width="4.6" height="4.6" fill="#c94646" stroke="#4a1010" stroke-width="0.9"/>
<polyline points="357.10,214.85 368.10,214.85 379.10,214.85 390.10,211.70 423.10,214.76" stroke="#333" stroke-width="0.9" fill="none"/>
<rect x="354.80" y="212.55" width="4.6" height="4.6" fill="#86b474" stroke="#1d3a15" stroke-width="0.9"/>
<rect x="365.80" y="212.55" width="4.6" height="4.6" fill="#86b474" stroke="#1d3a15" stroke-width="0.9"/>
<rect x="376.80" y="212.55" width="4.6" height="4.6" fill="#86b474" stroke="#1d3a15" stroke-width="0.9"/>
<rect x="387.80" y="209.40" width="4.6" height="4.6" fill="#86b474" stroke="#1d3a15" stroke-width="0.9"/>
<rect x="420.80" y="212.46" width="4.6" height="4.6" fill="#86b474" stroke="#1d3a15" stroke-width="0.9"/>
<path d="M40.20 318.30V231.20" stroke="#4a4a4a" stroke-width="1" fill="none"/>
<path d="M37.60 318.30H40.20M37.60 300.88H40.20M37.60 283.46H40.20M37.60 266.04H40.20M37.60 248.62H40.20M37.60 231.20H40.20" stroke="#4a4a4a" stroke-width="0.9" fill="none"/>
<path d="M40.20 318.30H106.20" stroke="#333" stroke-width="1" fill="none"/>
<path d="M62.20 318.30v2.6M84.20 318.30v2.6M106.20 318.30v2.6" stroke="#333" stroke-width="0.9" fill="none"/>
<polyline points="40.20,317.52 51.20,317.52 62.20,317.52 73.20,317.52 106.20,317.52" stroke="#333" stroke-width="0.9" fill="none"/>
<rect x="37.90" y="315.22" width="4.6" height="4.6" fill="#151515" stroke="#000000" stroke-width="0.9"/>
<rect x="48.90" y="315.22" width="4.6" height="4.6" fill="#151515" stroke="#000000" stroke-width="0.9"/>
<rect x="59.90" y="315.22" width="4.6" height="4.6" fill="#151515" stroke="#000000" stroke-width="0.9"/>
<rect x="70.90" y="315.22" width="4.6" height="4.6" fill="#151515" stroke="#000000" stroke-width="0.9"/>
<rect x="103.90" y="315.22" width="4.6" height="4.6" fill="#151515" stroke="#000000" stroke-width="0.9"/>
<polyline points="40.20,317.52 51.20,312.90 62.20,315.08 73.20,315.86 106.20,317.43" stroke="#333" stroke-width="0.9" fill="none"/>
<rect x="37.90" y="315.22" width="4.6" height="4.6" fill="#4858a4" stroke="#181c48" stroke-width="0.9"/>
<rect x="48.90" y="310.60" width="4.6" height="4.6" fill="#4858a4" stroke="#181c48" stroke-width="0.9"/>
<rect x="59.90" y="312.78" width="4.6" height="4.6" fill="#4858a4" stroke="#181c48" stroke-width="0.9"/>
<rect x="70.90" y="313.56" width="4.6" height="4.6" fill="#4858a4" stroke="#181c48" stroke-width="0.9"/>
<rect x="103.90" y="315.13" width="4.6" height="4.6" fill="#4858a4" stroke="#181c48" stroke-width="0.9"/>
<polyline points="40.20,317.52 51.20,317.52 62.20,317.52 73.20,317.52 106.20,317.52" stroke="#333" stroke-width="0.9" fill="none"/>
<rect x="37.90" y="315.22" width="4.6" height="4.6" fill="#a4a4a4" stroke="#444444" stroke-width="0.9"/>
<rect x="48.90" y="315.22" width="4.6" height="4.6" fill="#a4a4a4" stroke="#444444" stroke-width="0.9"/>
<rect x="59.90" y="315.22" width="4.6" height="4.6" fill="#a4a4a4" stroke="#444444" stroke-width="0.9"/>
<rect x="70.90" y="315.22" width="4.6" height="4.6" fill="#a4a4a4" stroke="#444444" stroke-width="0.9"/>
<rect x="103.90" y="315.22" width="4.6" height="4.6" fill="#a4a4a4" stroke="#444444" stroke-width="0.9"/>
<polyline points="40.20,317.52 51.20,264.73 62.20,264.73 73.20,270.39 106.20,280.15" stroke="#333" stroke-width="0.9" fill="none"/>
<path d="M51.20 258.20V271.27M48.80 258.20h4.8M48.80 271.27h4.8M62.20 260.73V268.74M59.80 260.73h4.8M59.80 268.74h4.8M73.20 268.65V272.14M70.80 268.65h4.8M70.80 272.14h4.8M106.20 274.92V285.38M103.80 274.92h4.8M103.80 285.38h4.8" stroke="#2a2a2a" stroke-width="0.9" fill="none"/>
<rect x="37.90" y="315.22" width="4.6" height="4.6" fill="#c94646" stroke="#4a1010" stroke-width="0.9"/>
<rect x="48.90" y="262.43" width="4.6" height="4.6" fill="#c94646" stroke="#4a1010" stroke-width="0.9"/>
<rect x="59.90" y="262.43" width="4.6" height="4.6" fill="#c94646" stroke="#4a1010" stroke-width="0.9"/>
<rect x="70.90" y="268.09" width="4.6" height="4.6" fill="#c94646" stroke="#4a1010" stroke-width="0.9"/>
<rect x="103.90" y="277.85" width="4.6" height="4.6" fill="#c94646" stroke="#4a1010" stroke-width="0.9"/>
<polyline points="40.20,317.52 51.20,317.52 62.20,317.52 73.20,317.52 106.20,317.52" stroke="#333" stroke-width="0.9" fill="none"/>
<rect x="37.90" y="315.22" width="4.6" height="4.6" fill="#86b474" stroke="#1d3a15" stroke-width="0.9"/>
<rect x="48.90" y="315.22" width="4.6" height="4.6" fill="#86b474" stroke="#1d3a15" stroke-width="0.9"/>
<rect x="59.90" y="315.22" width="4.6" height="4.6" fill="#86b474" stroke="#1d3a15" stroke-width="0.9"/>
<rect x="70.90" y="315.22" width="4.6" height="4.6" fill="#86b474" stroke="#1d3a15" stroke-width="0.9"/>
<rect x="103.90" y="315.22" width="4.6" height="4.6" fill="#86b474" stroke="#1d3a15" stroke-width="0.9"/>
<path d="M119.50 318.30V231.20" stroke="#4a4a4a" stroke-width="1" fill="none"/>
<path d="M116.90 318.30H119.50M116.90 300.88H119.50M116.90 283.46H119.50M116.90 266.04H119.50M116.90 248.62H119.50M116.90 231.20H119.50" stroke="#4a4a4a" stroke-width="0.9" fill="none"/>
<path d="M119.50 318.30H185.50" stroke="#333" stroke-width="1" fill="none"/>
<path d="M141.50 318.30v2.6M163.50 318.30v2.6M185.50 318.30v2.6" stroke="#333" stroke-width="0.9" fill="none"/>
<polyline points="119.50,317.52 130.50,317.52 141.50,317.43 152.50,313.68 185.50,312.90" stroke="#333" stroke-width="0.9" fill="none"/>
<path d="M185.50 310.29V315.51M183.10 310.29h4.8M183.10 315.51h4.8" stroke="#2a2a2a" stroke-width="0.9" fill="none"/>
<rect x="117.20" y="315.22" width="4.6" height="4.6" fill="#151515" stroke="#000000" stroke-width="0.9"/>
<rect x="128.20" y="315.22" width="4.6" height="4.6" fill="#151515" stroke="#000000" stroke-width="0.9"/>
<rect x="139.20" y="315.13" width="4.6" height="4.6" fill="#151515" stroke="#000000" stroke-width="0.9"/>
<rect x="150.20" y="311.38" width="4.6" height="4.6" fill="#151515" stroke="#000000" stroke-width="0.9"/>
<rect x="183.20" y="310.60" width="4.6" height="4.6" fill="#151515" stroke="#000000" stroke-width="0.9"/>
<polyline points="119.50,317.52 130.50,314.47 141.50,305.41 152.50,297.48 185.50,300.27" stroke="#333" stroke-width="0.9" fill="none"/>
<path d="M141.50 300.44V310.37M139.10 300.44h4.8M139.10 310.37h4.8M152.50 289.99V304.97M150.10 289.99h4.8M150.10 304.97h4.8M185.50 292.52V308.02M183.10 292.52h4.8M183.10 308.02h4.8" stroke="#2a2a2a" stroke-width="0.9" fill="none"/>
<rect x="117.20" y="315.22" width="4.6" height="4.6" fill="#4858a4" stroke="#181c48" stroke-width="0.9"/>
<rect x="128.20" y="312.17" width="4.6" height="4.6" fill="#4858a4" stroke="#181c48" stroke-width="0.9"/>
<rect x="139.20" y="303.11" width="4.6" height="4.6" fill="#4858a4" stroke="#181c48" stroke-width="0.9"/>
<rect x="150.20" y="295.18" width="4.6" height="4.6" fill="#4858a4" stroke="#181c48" stroke-width="0.9"/>
<rect x="183.20" y="297.97" width="4.6" height="4.6" fill="#4858a4" stroke="#181c48" stroke-width="0.9"/>
<polyline points="119.50,317.52 130.50,317.52 141.50,317.43 152.50,315.69 185.50,316.56" stroke="#333" stroke-width="0.9" fill="none"/>
<rect x="117.20" y="315.22" width="4.6" height="4.6" fill="#a4a4a4" stroke="#444444" stroke-width="0.9"/>
<rect x="128.20" y="315.22" width="4.6" height="4.6" fill="#a4a4a4" stroke="#444444" stroke-width="0.9"/>
<rect x="139.20" y="315.13" width="4.6" height="4.6" fill="#a4a4a4" stroke="#444444" stroke-width="0.9"/>
<rect x="150.20" y="313.39" width="4.6" height="4.6" fill="#a4a4a4" stroke="#444444" stroke-width="0.9"/>
<rect x="183.20" y="314.26" width="4.6" height="4.6" fill="#a4a4a4" stroke="#444444" stroke-width="0.9"/>
<polyline points="119.50,317.52 130.50,267.87 141.50,250.71 152.50,251.23 185.50,268.48" stroke="#333" stroke-width="0.9" fill="none"/>
<path d="M130.50 260.03V275.71M128.10 260.03h4.8M128.10 275.71h4.8M141.50 245.83V255.59M139.10 245.83h4.8M139.10 255.59h4.8M152.50 246.44V256.02M150.10 246.44h4.8M150.10 256.02h4.8M185.50 255.68V281.28M183.10 255.68h4.8M183.10 281.28h4.8" stroke="#2a2a2a" stroke-width="0.9" fill="none"/>
<rect x="117.20" y="315.22" width="4.6" height="4.6" fill="#c94646" stroke="#4a1010" stroke-width="0.9"/>
<rect x="128.20" y="265.57" width="4.6" height="4.6" fill="#c94646" stroke="#4a1010" stroke-width="0.9"/>
<rect x="139.20" y="248.41" width="4.6" height="4.6" fill="#c94646" stroke="#4a1010" stroke-width="0.9"/>
<rect x="150.20" y="248.93" width="4.6" height="4.6" fill="#c94646" stroke="#4a1010" stroke-width="0.9"/>
<rect x="183.20" y="266.18" width="4.6" height="4.6" fill="#c94646" stroke="#4a1010" stroke-width="0.9"/>
<polyline points="119.50,317.52 130.50,317.52 141.50,317.52 152.50,315.43 185.50,317.52" stroke="#333" stroke-width="0.9" fill="none"/>
<rect x="117.20" y="315.22" width="4.6" height="4.6" fill="#86b474" stroke="#1d3a15" stroke-width="0.9"/>
<rect x="128.20" y="315.22" width="4.6" height="4.6" fill="#86b474" stroke="#1d3a15" stroke-width="0.9"/>
<rect x="139.20" y="315.22" width="4.6" height="4.6" fill="#86b474" stroke="#1d3a15" stroke-width="0.9"/>
<rect x="150.20" y="313.13" width="4.6" height="4.6" fill="#86b474" stroke="#1d3a15" stroke-width="0.9"/>
<rect x="183.20" y="315.22" width="4.6" height="4.6" fill="#86b474" stroke="#1d3a15" stroke-width="0.9"/>
<path d="M198.85 318.30V231.20" stroke="#4a4a4a" stroke-width="1" fill="none"/>
<path d="M196.25 318.30H198.85M196.25 300.88H198.85M196.25 283.46H198.85M196.25 266.04H198.85M196.25 248.62H198.85M196.25 231.20H198.85" stroke="#4a4a4a" stroke-width="0.9" fill="none"/>
<path d="M198.85 318.30H264.85" stroke="#333" stroke-width="1" fill="none"/>
<path d="M220.85 318.30v2.6M242.85 318.30v2.6M264.85 318.30v2.6" stroke="#333" stroke-width="0.9" fill="none"/>
<polyline points="198.85,317.52 209.85,317.52 220.85,317.52 231.85,317.52 264.85,317.52" stroke="#333" stroke-width="0.9" fill="none"/>
<rect x="196.55" y="315.22" width="4.6" height="4.6" fill="#151515" stroke="#000000" stroke-width="0.9"/>
<rect x="207.55" y="315.22" width="4.6" height="4.6" fill="#151515" stroke="#000000" stroke-width="0.9"/>
<rect x="218.55" y="315.22" width="4.6" height="4.6" fill="#151515" stroke="#000000" stroke-width="0.9"/>
<rect x="229.55" y="315.22" width="4.6" height="4.6" fill="#151515" stroke="#000000" stroke-width="0.9"/>
<rect x="262.55" y="315.22" width="4.6" height="4.6" fill="#151515" stroke="#000000" stroke-width="0.9"/>
<polyline points="198.85,317.52 209.85,317.52 220.85,312.64 231.85,312.38 264.85,312.90" stroke="#333" stroke-width="0.9" fill="none"/>
<path d="M231.85 309.33V315.43M229.45 309.33h4.8M229.45 315.43h4.8M264.85 309.85V315.95M262.45 309.85h4.8M262.45 315.95h4.8" stroke="#2a2a2a" stroke-width="0.9" fill="none"/>
<rect x="196.55" y="315.22" width="4.6" height="4.6" fill="#4858a4" stroke="#181c48" stroke-width="0.9"/>
<rect x="207.55" y="315.22" width="4.6" height="4.6" fill="#4858a4" stroke="#181c48" stroke-width="0.9"/>
<rect x="218.55" y="310.34" width="4.6" height="4.6" fill="#4858a4" stroke="#181c48" stroke-width="0.9"/>
<rect x="229.55" y="310.08" width="4.6" height="4.6" fill="#4858a4" stroke="#181c48" stroke-width="0.9"/>
<rect x="262.55" y="310.60" width="4.6" height="4.6" fill="#4858a4" stroke="#181c48" stroke-width="0.9"/>
<polyline points="198.85,317.52 209.85,317.52 220.85,317.52 231.85,317.52 264.85,317.52" stroke="#333" stroke-width="0.9" fill="none"/>
<rect x="196.55" y="315.22" width="4.6" height="4.6" fill="#a4a4a4" stroke="#444444" stroke-width="0.9"/>
<rect x="207.55" y="315.22" width="4.6" height="4.6" fill="#a4a4a4" stroke="#444444" stroke-width="0.9"/>
<rect x="218.55" y="315.22" width="4.6" height="4.6" fill="#a4a4a4" stroke="#444444" stroke-width="0.9"/>
<rect x="229.55" y="315.22" width="4.6" height="4.6" fill="#a4a4a4" stroke="#444444" stroke-width="0.9"/>
<rect x="262.55" y="315.22" width="4.6" height="4.6" fill="#a4a4a4" stroke="#444444" stroke-width="0.9"/>
<polyline points="198.85,317.52 209.85,302.45 220.85,259.16 231.85,256.63 264.85,255.33" stroke="#333" stroke-width="0.9" fill="none"/>
<path d="M220.85 250.88V267.43M218.45 250.88h4.8M218.45 267.43h4.8M231.85 248.88V264.39M229.45 248.88h4.8M229.45 264.39h4.8M264.85 246.79V263.86M262.45 246.79h4.8M262.45 263.86h4.8" stroke="#2a2a2a" stroke-width="0.9" fill="none"/>
<rect x="196.55" y="315.22" width="4.6" height="4.6" fill="#c94646" stroke="#4a1010" stroke-width="0.9"/>
<rect x="207.55" y="300.15" width="4.6" height="4.6" fill="#c94646" stroke="#4a1010" stroke-width="0.9"/>
<rect x="218.55" y="256.86" width="4.6" height="4.6" fill="#c94646" stroke="#4a1010" stroke-width="0.9"/>
<rect x="229.55" y="254.33" width="4.6" height="4.6" fill="#c94646" stroke="#4a1010" stroke-width="0.9"/>
<rect x="262.55" y="253.03" width="4.6" height="4.6" fill="#c94646" stroke="#4a1010" stroke-width="0.9"/>
<polyline points="198.85,317.52 209.85,317.52 220.85,317.08 231.85,317.43 264.85,317.52" stroke="#333" stroke-width="0.9" fill="none"/>
<rect x="196.55" y="315.22" width="4.6" height="4.6" fill="#86b474" stroke="#1d3a15" stroke-width="0.9"/>
<rect x="207.55" y="315.22" width="4.6" height="4.6" fill="#86b474" stroke="#1d3a15" stroke-width="0.9"/>
<rect x="218.55" y="314.78" width="4.6" height="4.6" fill="#86b474" stroke="#1d3a15" stroke-width="0.9"/>
<rect x="229.55" y="315.13" width="4.6" height="4.6" fill="#86b474" stroke="#1d3a15" stroke-width="0.9"/>
<rect x="262.55" y="315.22" width="4.6" height="4.6" fill="#86b474" stroke="#1d3a15" stroke-width="0.9"/>
<path d="M278.10 318.30V231.20" stroke="#4a4a4a" stroke-width="1" fill="none"/>
<path d="M275.50 318.30H278.10M275.50 300.88H278.10M275.50 283.46H278.10M275.50 266.04H278.10M275.50 248.62H278.10M275.50 231.20H278.10" stroke="#4a4a4a" stroke-width="0.9" fill="none"/>
<path d="M278.10 318.30H344.10" stroke="#333" stroke-width="1" fill="none"/>
<path d="M300.10 318.30v2.6M322.10 318.30v2.6M344.10 318.30v2.6" stroke="#333" stroke-width="0.9" fill="none"/>
<polyline points="278.10,317.52 289.10,317.52 300.10,317.52 311.10,317.52 344.10,316.99" stroke="#333" stroke-width="0.9" fill="none"/>
<rect x="275.80" y="315.22" width="4.6" height="4.6" fill="#151515" stroke="#000000" stroke-width="0.9"/>
<rect x="286.80" y="315.22" width="4.6" height="4.6" fill="#151515" stroke="#000000" stroke-width="0.9"/>
<rect x="297.80" y="315.22" width="4.6" height="4.6" fill="#151515" stroke="#000000" stroke-width="0.9"/>
<rect x="308.80" y="315.22" width="4.6" height="4.6" fill="#151515" stroke="#000000" stroke-width="0.9"/>
<rect x="341.80" y="314.69" width="4.6" height="4.6" fill="#151515" stroke="#000000" stroke-width="0.9"/>
<polyline points="278.10,317.52 289.10,317.52 300.10,317.52 311.10,317.52 344.10,317.43" stroke="#333" stroke-width="0.9" fill="none"/>
<rect x="275.80" y="315.22" width="4.6" height="4.6" fill="#4858a4" stroke="#181c48" stroke-width="0.9"/>
<rect x="286.80" y="315.22" width="4.6" height="4.6" fill="#4858a4" stroke="#181c48" stroke-width="0.9"/>
<rect x="297.80" y="315.22" width="4.6" height="4.6" fill="#4858a4" stroke="#181c48" stroke-width="0.9"/>
<rect x="308.80" y="315.22" width="4.6" height="4.6" fill="#4858a4" stroke="#181c48" stroke-width="0.9"/>
<rect x="341.80" y="315.13" width="4.6" height="4.6" fill="#4858a4" stroke="#181c48" stroke-width="0.9"/>
<polyline points="278.10,317.52 289.10,317.52 300.10,317.52 311.10,317.52 344.10,317.52" stroke="#333" stroke-width="0.9" fill="none"/>
<rect x="275.80" y="315.22" width="4.6" height="4.6" fill="#a4a4a4" stroke="#444444" stroke-width="0.9"/>
<rect x="286.80" y="315.22" width="4.6" height="4.6" fill="#a4a4a4" stroke="#444444" stroke-width="0.9"/>
<rect x="297.80" y="315.22" width="4.6" height="4.6" fill="#a4a4a4" stroke="#444444" stroke-width="0.9"/>
<rect x="308.80" y="315.22" width="4.6" height="4.6" fill="#a4a4a4" stroke="#444444" stroke-width="0.9"/>
<rect x="341.80" y="315.22" width="4.6" height="4.6" fill="#a4a4a4" stroke="#444444" stroke-width="0.9"/>
<polyline points="278.10,317.52 289.10,317.52 300.10,309.15 311.10,290.25 344.10,286.60" stroke="#333" stroke-width="0.9" fill="none"/>
<path d="M311.10 281.54V298.96M308.70 281.54h4.8M308.70 298.96h4.8M344.10 275.10V298.09M341.70 275.10h4.8M341.70 298.09h4.8" stroke="#2a2a2a" stroke-width="0.9" fill="none"/>
<rect x="275.80" y="315.22" width="4.6" height="4.6" fill="#c94646" stroke="#4a1010" stroke-width="0.9"/>
<rect x="286.80" y="315.22" width="4.6" height="4.6" fill="#c94646" stroke="#4a1010" stroke-width="0.9"/>
<rect x="297.80" y="306.85" width="4.6" height="4.6" fill="#c94646" stroke="#4a1010" stroke-width="0.9"/>
<rect x="308.80" y="287.95" width="4.6" height="4.6" fill="#c94646" stroke="#4a1010" stroke-width="0.9"/>
<rect x="341.80" y="284.30" width="4.6" height="4.6" fill="#c94646" stroke="#4a1010" stroke-width="0.9"/>
<polyline points="278.10,317.52 289.10,317.52 300.10,317.52 311.10,317.52 344.10,317.52" stroke="#333" stroke-width="0.9" fill="none"/>
<rect x="275.80" y="315.22" width="4.6" height="4.6" fill="#86b474" stroke="#1d3a15" stroke-width="0.9"/>
<rect x="286.80" y="315.22" width="4.6" height="4.6" fill="#86b474" stroke="#1d3a15" stroke-width="0.9"/>
<rect x="297.80" y="315.22" width="4.6" height="4.6" fill="#86b474" stroke="#1d3a15" stroke-width="0.9"/>
<rect x="308.80" y="315.22" width="4.6" height="4.6" fill="#86b474" stroke="#1d3a15" stroke-width="0.9"/>
<rect x="341.80" y="315.22" width="4.6" height="4.6" fill="#86b474" stroke="#1d3a15" stroke-width="0.9"/>
<path d="M357.10 318.30V231.20" stroke="#4a4a4a" stroke-width="1" fill="none"/>
<path d="M354.50 318.30H357.10M354.50 300.88H357.10M354.50 283.46H357.10M354.50 266.04H357.10M354.50 248.62H357.10M354.50 231.20H357.10" stroke="#4a4a4a" stroke-width="0.9" fill="none"/>
<path d="M357.10 318.30H423.10" stroke="#333" stroke-width="1" fill="none"/>
<path d="M379.10 318.30v2.6M401.10 318.30v2.6M423.10 318.30v2.6" stroke="#333" stroke-width="0.9" fill="none"/>
<polyline points="357.10,317.52 368.10,317.52 379.10,317.52 390.10,317.43 423.10,317.43" stroke="#333" stroke-width="0.9" fill="none"/>
<rect x="354.80" y="315.22" width="4.6" height="4.6" fill="#151515" stroke="#000000" stroke-width="0.9"/>
<rect x="365.80" y="315.22" width="4.6" height="4.6" fill="#151515" stroke="#000000" stroke-width="0.9"/>
<rect x="376.80" y="315.22" width="4.6" height="4.6" fill="#151515" stroke="#000000" stroke-width="0.9"/>
<rect x="387.80" y="315.13" width="4.6" height="4.6" fill="#151515" stroke="#000000" stroke-width="0.9"/>
<rect x="420.80" y="315.13" width="4.6" height="4.6" fill="#151515" stroke="#000000" stroke-width="0.9"/>
<polyline points="357.10,317.52 368.10,317.52 379.10,304.45 390.10,297.48 423.10,288.16" stroke="#333" stroke-width="0.9" fill="none"/>
<path d="M379.10 299.92V308.98M376.70 299.92h4.8M376.70 308.98h4.8M390.10 289.99V304.97M387.70 289.99h4.8M387.70 304.97h4.8M423.10 278.41V297.92M420.70 278.41h4.8M420.70 297.92h4.8" stroke="#2a2a2a" stroke-width="0.9" fill="none"/>
<rect x="354.80" y="315.22" width="4.6" height="4.6" fill="#4858a4" stroke="#181c48" stroke-width="0.9"/>
<rect x="365.80" y="315.22" width="4.6" height="4.6" fill="#4858a4" stroke="#181c48" stroke-width="0.9"/>
<rect x="376.80" y="302.15" width="4.6" height="4.6" fill="#4858a4" stroke="#181c48" stroke-width="0.9"/>
<rect x="387.80" y="295.18" width="4.6" height="4.6" fill="#4858a4" stroke="#181c48" stroke-width="0.9"/>
<rect x="420.80" y="285.86" width="4.6" height="4.6" fill="#4858a4" stroke="#181c48" stroke-width="0.9"/>
<polyline points="357.10,317.52 368.10,317.52 379.10,317.43 390.10,316.56 423.10,316.56" stroke="#333" stroke-width="0.9" fill="none"/>
<rect x="354.80" y="315.22" width="4.6" height="4.6" fill="#a4a4a4" stroke="#444444" stroke-width="0.9"/>
<rect x="365.80" y="315.22" width="4.6" height="4.6" fill="#a4a4a4" stroke="#444444" stroke-width="0.9"/>
<rect x="376.80" y="315.13" width="4.6" height="4.6" fill="#a4a4a4" stroke="#444444" stroke-width="0.9"/>
<rect x="387.80" y="314.26" width="4.6" height="4.6" fill="#a4a4a4" stroke="#444444" stroke-width="0.9"/>
<rect x="420.80" y="314.26" width="4.6" height="4.6" fill="#a4a4a4" stroke="#444444" stroke-width="0.9"/>
<polyline points="357.10,317.52 368.10,304.02 379.10,246.53 390.10,238.60 423.10,233.99" stroke="#333" stroke-width="0.9" fill="none"/>
<rect x="354.80" y="315.22" width="4.6" height="4.6" fill="#c94646" stroke="#4a1010" stroke-width="0.9"/>
<rect x="365.80" y="301.72" width="4.6" height="4.6" fill="#c94646" stroke="#4a1010" stroke-width="0.9"/>
<rect x="376.80" y="244.23" width="4.6" height="4.6" fill="#c94646" stroke="#4a1010" stroke-width="0.9"/>
<rect x="387.80" y="236.30" width="4.6" height="4.6" fill="#c94646" stroke="#4a1010" stroke-width="0.9"/>
<rect x="420.80" y="231.69" width="4.6" height="4.6" fill="#c94646" stroke="#4a1010" stroke-width="0.9"/>
<polyline points="357.10,317.52 368.10,317.52 379.10,317.43 390.10,314.90 423.10,314.12" stroke="#333" stroke-width="0.9" fill="none"/>
<rect x="354.80" y="315.22" width="4.6" height="4.6" fill="#86b474" stroke="#1d3a15" stroke-width="0.9"/>
<rect x="365.80" y="315.22" width="4.6" height="4.6" fill="#86b474" stroke="#1d3a15" stroke-width="0.9"/>
<rect x="376.80" y="315.13" width="4.6" height="4.6" fill="#86b474" stroke="#1d3a15" stroke-width="0.9"/>
<rect x="387.80" y="312.60" width="4.6" height="4.6" fill="#86b474" stroke="#1d3a15" stroke-width="0.9"/>
<rect x="420.80" y="311.82" width="4.6" height="4.6" fill="#86b474" stroke="#1d3a15" stroke-width="0.9"/>
<path d="M40.20 422.80V335.50" stroke="#4a4a4a" stroke-width="1" fill="none"/>
<path d="M37.60 422.80H40.20M37.60 405.34H40.20M37.60 387.88H40.20M37.60 370.42H40.20M37.60 352.96H40.20M37.60 335.50H40.20" stroke="#4a4a4a" stroke-width="0.9" fill="none"/>
<path d="M40.20 422.80H106.20" stroke="#333" stroke-width="1" fill="none"/>
<path d="M62.20 422.80v2.6M84.20 422.80v2.6M106.20 422.80v2.6" stroke="#333" stroke-width="0.9" fill="none"/>
<polyline points="40.20,422.45 51.20,422.45 62.20,422.45 73.20,422.45 106.20,422.45" stroke="#333" stroke-width="0.9" fill="none"/>
<rect x="37.90" y="420.15" width="4.6" height="4.6" fill="#151515" stroke="#000000" stroke-width="0.9"/>
<rect x="48.90" y="420.15" width="4.6" height="4.6" fill="#151515" stroke="#000000" stroke-width="0.9"/>
<rect x="59.90" y="420.15" width="4.6" height="4.6" fill="#151515" stroke="#000000" stroke-width="0.9"/>
<rect x="70.90" y="420.15" width="4.6" height="4.6" fill="#151515" stroke="#000000" stroke-width="0.9"/>
<rect x="103.90" y="420.15" width="4.6" height="4.6" fill="#151515" stroke="#000000" stroke-width="0.9"/>
<polyline points="40.20,422.45 51.20,387.36 62.20,382.12 73.20,384.04 106.20,385.44" stroke="#333" stroke-width="0.9" fill="none"/>
<path d="M51.20 381.25V393.47M48.80 381.25h4.8M48.80 393.47h4.8M62.20 371.03V393.21M59.80 371.03h4.8M59.80 393.21h4.8M73.20 372.86V395.21M70.80 372.86h4.8M70.80 395.21h4.8M106.20 374.09V396.78M103.80 374.09h4.8M103.80 396.78h4.8" stroke="#2a2a2a" stroke-width="0.9" fill="none"/>
<rect x="37.90" y="420.15" width="4.6" height="4.6" fill="#4858a4" stroke="#181c48" stroke-width="0.9"/>
<rect x="48.90" y="385.06" width="4.6" height="4.6" fill="#4858a4" stroke="#181c48" stroke-width="0.9"/>
<rect x="59.90" y="379.82" width="4.6" height="4.6" fill="#4858a4" stroke="#181c48" stroke-width="0.9"/>
<rect x="70.90" y="381.74" width="4.6" height="4.6" fill="#4858a4" stroke="#181c48" stroke-width="0.9"/>
<rect x="103.90" y="383.14" width="4.6" height="4.6" fill="#4858a4" stroke="#181c48" stroke-width="0.9"/>
<polyline points="40.20,422.45 51.20,422.45 62.20,422.45 73.20,422.45 106.20,422.45" stroke="#333" stroke-width="0.9" fill="none"/>
<rect x="37.90" y="420.15" width="4.6" height="4.6" fill="#a4a4a4" stroke="#444444" stroke-width="0.9"/>
<rect x="48.90" y="420.15" width="4.6" height="4.6" fill="#a4a4a4" stroke="#444444" stroke-width="0.9"/>
<rect x="59.90" y="420.15" width="4.6" height="4.6" fill="#a4a4a4" stroke="#444444" stroke-width="0.9"/>
<rect x="70.90" y="420.15" width="4.6" height="4.6" fill="#a4a4a4" stroke="#444444" stroke-width="0.9"/>
<rect x="103.90" y="420.15" width="4.6" height="4.6" fill="#a4a4a4" stroke="#444444" stroke-width="0.9"/>
<polyline points="40.20,422.45 51.20,422.36 62.20,422.45 73.20,422.45 106.20,422.45" stroke="#333" stroke-width="0.9" fill="none"/>
<rect x="37.90" y="420.15" width="4.6" height="4.6" fill="#c94646" stroke="#4a1010" stroke-width="0.9"/>
<rect x="48.90" y="420.06" width="4.6" height="4.6" fill="#c94646" stroke="#4a1010" stroke-width="0.9"/>
<rect x="59.90" y="420.15" width="4.6" height="4.6" fill="#c94646" stroke="#4a1010" stroke-width="0.9"/>
<rect x="70.90" y="420.15" width="4.6" height="4.6" fill="#c94646" stroke="#4a1010" stroke-width="0.9"/>
<rect x="103.90" y="420.15" width="4.6" height="4.6" fill="#c94646" stroke="#4a1010" stroke-width="0.9"/>
<polyline points="40.20,422.45 51.20,398.97 62.20,396.96 73.20,396.00 106.20,393.99" stroke="#333" stroke-width="0.9" fill="none"/>
<path d="M51.20 393.21V404.73M48.80 393.21h4.8M48.80 404.73h4.8M62.20 391.20V402.72M59.80 391.20h4.8M59.80 402.72h4.8M73.20 389.45V402.55M70.80 389.45h4.8M70.80 402.55h4.8M106.20 387.01V400.97M103.80 387.01h4.8M103.80 400.97h4.8" stroke="#2a2a2a" stroke-width="0.9" fill="none"/>
<rect x="37.90" y="420.15" width="4.6" height="4.6" fill="#86b474" stroke="#1d3a15" stroke-width="0.9"/>
<rect x="48.90" y="396.67" width="4.6" height="4.6" fill="#86b474" stroke="#1d3a15" stroke-width="0.9"/>
<rect x="59.90" y="394.66" width="4.6" height="4.6" fill="#86b474" stroke="#1d3a15" stroke-width="0.9"/>
<rect x="70.90" y="393.70" width="4.6" height="4.6" fill="#86b474" stroke="#1d3a15" stroke-width="0.9"/>
<rect x="103.90" y="391.69" width="4.6" height="4.6" fill="#86b474" stroke="#1d3a15" stroke-width="0.9"/>
<path d="M119.50 422.80V335.50" stroke="#4a4a4a" stroke-width="1" fill="none"/>
<path d="M116.90 422.80H119.50M116.90 405.34H119.50M116.90 387.88H119.50M116.90 370.42H119.50M116.90 352.96H119.50M116.90 335.50H119.50" stroke="#4a4a4a" stroke-width="0.9" fill="none"/>
<path d="M119.50 422.80H185.50" stroke="#333" stroke-width="1" fill="none"/>
<path d="M141.50 422.80v2.6M163.50 422.80v2.6M185.50 422.80v2.6" stroke="#333" stroke-width="0.9" fill="none"/>
<polyline points="119.50,422.45 130.50,422.45 141.50,422.45 152.50,421.93 185.50,411.71" stroke="#333" stroke-width="0.9" fill="none"/>
<path d="M185.50 407.96V415.47M183.10 407.96h4.8M183.10 415.47h4.8" stroke="#2a2a2a" stroke-width="0.9" fill="none"/>
<rect x="117.20" y="420.15" width="4.6" height="4.6" fill="#151515" stroke="#000000" stroke-width="0.9"/>
<rect x="128.20" y="420.15" width="4.6" height="4.6" fill="#151515" stroke="#000000" stroke-width="0.9"/>
<rect x="139.20" y="420.15" width="4.6" height="4.6" fill="#151515" stroke="#000000" stroke-width="0.9"/>
<rect x="150.20" y="419.63" width="4.6" height="4.6" fill="#151515" stroke="#000000" stroke-width="0.9"/>
<rect x="183.20" y="409.41" width="4.6" height="4.6" fill="#151515" stroke="#000000" stroke-width="0.9"/>
<polyline points="119.50,422.45 130.50,411.71 141.50,373.82 152.50,368.50 185.50,365.88" stroke="#333" stroke-width="0.9" fill="none"/>
<path d="M130.50 407.44V415.99M128.10 407.44h4.8M128.10 415.99h4.8M141.50 360.38V387.27M139.10 360.38h4.8M139.10 387.27h4.8M152.50 357.06V379.94M150.10 357.06h4.8M150.10 379.94h4.8M185.50 357.24V374.52M183.10 357.24h4.8M183.10 374.52h4.8" stroke="#2a2a2a" stroke-width="0.9" fill="none"/>
<rect x="117.20" y="420.15" width="4.6" height="4.6" fill="#4858a4" stroke="#181c48" stroke-width="0.9"/>
<rect x="128.20" y="409.41" width="4.6" height="4.6" fill="#4858a4" stroke="#181c48" stroke-width="0.9"/>
<rect x="139.20" y="371.52" width="4.6" height="4.6" fill="#4858a4" stroke="#181c48" stroke-width="0.9"/>
<rect x="150.20" y="366.20" width="4.6" height="4.6" fill="#4858a4" stroke="#181c48" stroke-width="0.9"/>
<rect x="183.20" y="363.58" width="4.6" height="4.6" fill="#4858a4" stroke="#181c48" stroke-width="0.9"/>
<polyline points="119.50,422.45 130.50,422.45 141.50,422.45 152.50,421.93 185.50,417.91" stroke="#333" stroke-width="0.9" fill="none"/>
<rect x="117.20" y="420.15" width="4.6" height="4.6" fill="#a4a4a4" stroke="#444444" stroke-width="0.9"/>
<rect x="128.20" y="420.15" width="4.6" height="4.6" fill="#a4a4a4" stroke="#444444" stroke-width="0.9"/>
<rect x="139.20" y="420.15" width="4.6" height="4.6" fill="#a4a4a4" stroke="#444444" stroke-width="0.9"/>
<rect x="150.20" y="419.63" width="4.6" height="4.6" fill="#a4a4a4" stroke="#444444" stroke-width="0.9"/>
<rect x="183.20" y="415.61" width="4.6" height="4.6" fill="#a4a4a4" stroke="#444444" stroke-width="0.9"/>
<polyline points="119.50,422.45 130.50,422.45 141.50,422.45 152.50,422.36 185.50,422.36" stroke="#333" stroke-width="0.9" fill="none"/>
<rect x="117.20" y="420.15" width="4.6" height="4.6" fill="#c94646" stroke="#4a1010" stroke-width="0.9"/>
<rect x="128.20" y="420.15" width="4.6" height="4.6" fill="#c94646" stroke="#4a1010" stroke-width="0.9"/>
<rect x="139.20" y="420.15" width="4.6" height="4.6" fill="#c94646" stroke="#4a1010" stroke-width="0.9"/>
<rect x="150.20" y="420.06" width="4.6" height="4.6" fill="#c94646" stroke="#4a1010" stroke-width="0.9"/>
<rect x="183.20" y="420.06" width="4.6" height="4.6" fill="#c94646" stroke="#4a1010" stroke-width="0.9"/>
<polyline points="119.50,422.45 130.50,420.88 141.50,404.55 152.50,393.64 185.50,392.86" stroke="#333" stroke-width="0.9" fill="none"/>
<path d="M141.50 400.80V408.31M139.10 400.80h4.8M139.10 408.31h4.8M152.50 387.62V399.67M150.10 387.62h4.8M150.10 399.67h4.8M185.50 382.38V403.33M183.10 382.38h4.8M183.10 403.33h4.8" stroke="#2a2a2a" stroke-width="0.9" fill="none"/>
<rect x="117.20" y="420.15" width="4.6" height="4.6" fill="#86b474" stroke="#1d3a15" stroke-width="0.9"/>
<rect x="128.20" y="418.58" width="4.6" height="4.6" fill="#86b474" stroke="#1d3a15" stroke-width="0.9"/>
<rect x="139.20" y="402.25" width="4.6" height="4.6" fill="#86b474" stroke="#1d3a15" stroke-width="0.9"/>
<rect x="150.20" y="391.34" width="4.6" height="4.6" fill="#86b474" stroke="#1d3a15" stroke-width="0.9"/>
<rect x="183.20" y="390.56" width="4.6" height="4.6" fill="#86b474" stroke="#1d3a15" stroke-width="0.9"/>
<path d="M198.85 422.80V335.50" stroke="#4a4a4a" stroke-width="1" fill="none"/>
<path d="M196.25 422.80H198.85M196.25 405.34H198.85M196.25 387.88H198.85M196.25 370.42H198.85M196.25 352.96H198.85M196.25 335.50H198.85" stroke="#4a4a4a" stroke-width="0.9" fill="none"/>
<path d="M198.85 422.80H264.85" stroke="#333" stroke-width="1" fill="none"/>
<path d="M220.85 422.80v2.6M242.85 422.80v2.6M264.85 422.80v2.6" stroke="#333" stroke-width="0.9" fill="none"/>
<polyline points="198.85,422.45 209.85,422.45 220.85,422.45 231.85,422.45 264.85,422.45" stroke="#333" stroke-width="0.9" fill="none"/>
<rect x="196.55" y="420.15" width="4.6" height="4.6" fill="#151515" stroke="#000000" stroke-width="0.9"/>
<rect x="207.55" y="420.15" width="4.6" height="4.6" fill="#151515" stroke="#000000" stroke-width="0.9"/>
<rect x="218.55" y="420.15" width="4.6" height="4.6" fill="#151515" stroke="#000000" stroke-width="0.9"/>
<rect x="229.55" y="420.15" width="4.6" height="4.6" fill="#151515" stroke="#000000" stroke-width="0.9"/>
<rect x="262.55" y="420.15" width="4.6" height="4.6" fill="#151515" stroke="#000000" stroke-width="0.9"/>
<polyline points="198.85,422.45 209.85,422.45 220.85,411.97 231.85,408.22 264.85,407.78" stroke="#333" stroke-width="0.9" fill="none"/>
<path d="M220.85 406.74V417.21M218.45 406.74h4.8M218.45 417.21h4.8M231.85 401.67V414.77M229.45 401.67h4.8M229.45 414.77h4.8M264.85 402.81V412.76M262.45 402.81h4.8M262.45 412.76h4.8" stroke="#2a2a2a" stroke-width="0.9" fill="none"/>
<rect x="196.55" y="420.15" width="4.6" height="4.6" fill="#4858a4" stroke="#181c48" stroke-width="0.9"/>
<rect x="207.55" y="420.15" width="4.6" height="4.6" fill="#4858a4" stroke="#181c48" stroke-width="0.9"/>
<rect x="218.55" y="409.67" width="4.6" height="4.6" fill="#4858a4" stroke="#181c48" stroke-width="0.9"/>
<rect x="229.55" y="405.92" width="4.6" height="4.6" fill="#4858a4" stroke="#181c48" stroke-width="0.9"/>
<rect x="262.55" y="405.48" width="4.6" height="4.6" fill="#4858a4" stroke="#181c48" stroke-width="0.9"/>
<polyline points="198.85,422.45 209.85,422.45 220.85,422.45 231.85,422.45 264.85,422.45" stroke="#333" stroke-width="0.9" fill="none"/>
<rect x="196.55" y="420.15" width="4.6" height="4.6" fill="#a4a4a4" stroke="#444444" stroke-width="0.9"/>
<rect x="207.55" y="420.15" width="4.6" height="4.6" fill="#a4a4a4" stroke="#444444" stroke-width="0.9"/>
<rect x="218.55" y="420.15" width="4.6" height="4.6" fill="#a4a4a4" stroke="#444444" stroke-width="0.9"/>
<rect x="229.55" y="420.15" width="4.6" height="4.6" fill="#a4a4a4" stroke="#444444" stroke-width="0.9"/>
<rect x="262.55" y="420.15" width="4.6" height="4.6" fill="#a4a4a4" stroke="#444444" stroke-width="0.9"/>
<polyline points="198.85,422.45 209.85,422.45 220.85,422.45 231.85,422.45 264.85,421.93" stroke="#333" stroke-width="0.9" fill="none"/>
<rect x="196.55" y="420.15" width="4.6" height="4.6" fill="#c94646" stroke="#4a1010" stroke-width="0.9"/>
<rect x="207.55" y="420.15" width="4.6" height="4.6" fill="#c94646" stroke="#4a1010" stroke-width="0.9"/>
<rect x="218.55" y="420.15" width="4.6" height="4.6" fill="#c94646" stroke="#4a1010" stroke-width="0.9"/>
<rect x="229.55" y="420.15" width="4.6" height="4.6" fill="#c94646" stroke="#4a1010" stroke-width="0.9"/>
<rect x="262.55" y="419.63" width="4.6" height="4.6" fill="#c94646" stroke="#4a1010" stroke-width="0.9"/>
<polyline points="198.85,422.45 209.85,422.45 220.85,419.22 231.85,415.38 264.85,411.97" stroke="#333" stroke-width="0.9" fill="none"/>
<rect x="196.55" y="420.15" width="4.6" height="4.6" fill="#86b474" stroke="#1d3a15" stroke-width="0.9"/>
<rect x="207.55" y="420.15" width="4.6" height="4.6" fill="#86b474" stroke="#1d3a15" stroke-width="0.9"/>
<rect x="218.55" y="416.92" width="4.6" height="4.6" fill="#86b474" stroke="#1d3a15" stroke-width="0.9"/>
<rect x="229.55" y="413.08" width="4.6" height="4.6" fill="#86b474" stroke="#1d3a15" stroke-width="0.9"/>
<rect x="262.55" y="409.67" width="4.6" height="4.6" fill="#86b474" stroke="#1d3a15" stroke-width="0.9"/>
<path d="M278.10 422.80V335.50" stroke="#4a4a4a" stroke-width="1" fill="none"/>
<path d="M275.50 422.80H278.10M275.50 405.34H278.10M275.50 387.88H278.10M275.50 370.42H278.10M275.50 352.96H278.10M275.50 335.50H278.10" stroke="#4a4a4a" stroke-width="0.9" fill="none"/>
<path d="M278.10 422.80H344.10" stroke="#333" stroke-width="1" fill="none"/>
<path d="M300.10 422.80v2.6M322.10 422.80v2.6M344.10 422.80v2.6" stroke="#333" stroke-width="0.9" fill="none"/>
<polyline points="278.10,422.45 289.10,422.45 300.10,422.45 311.10,422.45 344.10,422.45" stroke="#333" stroke-width="0.9" fill="none"/>
<rect x="275.80" y="420.15" width="4.6" height="4.6" fill="#151515" stroke="#000000" stroke-width="0.9"/>
<rect x="286.80" y="420.15" width="4.6" height="4.6" fill="#151515" stroke="#000000" stroke-width="0.9"/>
<rect x="297.80" y="420.15" width="4.6" height="4.6" fill="#151515" stroke="#000000" stroke-width="0.9"/>
<rect x="308.80" y="420.15" width="4.6" height="4.6" fill="#151515" stroke="#000000" stroke-width="0.9"/>
<rect x="341.80" y="420.15" width="4.6" height="4.6" fill="#151515" stroke="#000000" stroke-width="0.9"/>
<polyline points="278.10,422.45 289.10,422.45 300.10,422.45 311.10,417.56 344.10,418.44" stroke="#333" stroke-width="0.9" fill="none"/>
<rect x="275.80" y="420.15" width="4.6" height="4.6" fill="#4858a4" stroke="#181c48" stroke-width="0.9"/>
<rect x="286.80" y="420.15" width="4.6" height="4.6" fill="#4858a4" stroke="#181c48" stroke-width="0.9"/>
<rect x="297.80" y="420.15" width="4.6" height="4.6" fill="#4858a4" stroke="#181c48" stroke-width="0.9"/>
<rect x="308.80" y="415.26" width="4.6" height="4.6" fill="#4858a4" stroke="#181c48" stroke-width="0.9"/>
<rect x="341.80" y="416.13" width="4.6" height="4.6" fill="#4858a4" stroke="#181c48" stroke-width="0.9"/>
<polyline points="278.10,422.45 289.10,422.45 300.10,422.45 311.10,422.45 344.10,422.45" stroke="#333" stroke-width="0.9" fill="none"/>
<rect x="275.80" y="420.15" width="4.6" height="4.6" fill="#a4a4a4" stroke="#444444" stroke-width="0.9"/>
<rect x="286.80" y="420.15" width="4.6" height="4.6" fill="#a4a4a4" stroke="#444444" stroke-width="0.9"/>
<rect x="297.80" y="420.15" width="4.6" height="4.6" fill="#a4a4a4" stroke="#444444" stroke-width="0.9"/>
<rect x="308.80" y="420.15" width="4.6" height="4.6" fill="#a4a4a4" stroke="#444444" stroke-width="0.9"/>
<rect x="341.80" y="420.15" width="4.6" height="4.6" fill="#a4a4a4" stroke="#444444" stroke-width="0.9"/>
<polyline points="278.10,422.45 289.10,422.45 300.10,422.45 311.10,422.45 344.10,422.45" stroke="#333" stroke-width="0.9" fill="none"/>
<rect x="275.80" y="420.15" width="4.6" height="4.6" fill="#c94646" stroke="#4a1010" stroke-width="0.9"/>
<rect x="286.80" y="420.15" width="4.6" height="4.6" fill="#c94646" stroke="#4a1010" stroke-width="0.9"/>
<rect x="297.80" y="420.15" width="4.6" height="4.6" fill="#c94646" stroke="#4a1010" stroke-width="0.9"/>
<rect x="308.80" y="420.15" width="4.6" height="4.6" fill="#c94646" stroke="#4a1010" stroke-width="0.9"/>
<rect x="341.80" y="420.15" width="4.6" height="4.6" fill="#c94646" stroke="#4a1010" stroke-width="0.9"/>
<polyline points="278.10,422.45 289.10,422.45 300.10,422.36 311.10,421.05 344.10,421.05" stroke="#333" stroke-width="0.9" fill="none"/>
<rect x="275.80" y="420.15" width="4.6" height="4.6" fill="#86b474" stroke="#1d3a15" stroke-width="0.9"/>
<rect x="286.80" y="420.15" width="4.6" height="4.6" fill="#86b474" stroke="#1d3a15" stroke-width="0.9"/>
<rect x="297.80" y="420.06" width="4.6" height="4.6" fill="#86b474" stroke="#1d3a15" stroke-width="0.9"/>
<rect x="308.80" y="418.75" width="4.6" height="4.6" fill="#86b474" stroke="#1d3a15" stroke-width="0.9"/>
<rect x="341.80" y="418.75" width="4.6" height="4.6" fill="#86b474" stroke="#1d3a15" stroke-width="0.9"/>
<path d="M357.10 422.80V335.50" stroke="#4a4a4a" stroke-width="1" fill="none"/>
<path d="M354.50 422.80H357.10M354.50 405.34H357.10M354.50 387.88H357.10M354.50 370.42H357.10M354.50 352.96H357.10M354.50 335.50H357.10" stroke="#4a4a4a" stroke-width="0.9" fill="none"/>
<path d="M357.10 422.80H423.10" stroke="#333" stroke-width="1" fill="none"/>
<path d="M379.10 422.80v2.6M401.10 422.80v2.6M423.10 422.80v2.6" stroke="#333" stroke-width="0.9" fill="none"/>
<polyline points="357.10,422.45 368.10,413.72 379.10,421.05 390.10,421.49 423.10,408.22" stroke="#333" stroke-width="0.9" fill="none"/>
<rect x="354.80" y="420.15" width="4.6" height="4.6" fill="#151515" stroke="#000000" stroke-width="0.9"/>
<rect x="365.80" y="411.42" width="4.6" height="4.6" fill="#151515" stroke="#000000" stroke-width="0.9"/>
<rect x="376.80" y="418.75" width="4.6" height="4.6" fill="#151515" stroke="#000000" stroke-width="0.9"/>
<rect x="387.80" y="419.19" width="4.6" height="4.6" fill="#151515" stroke="#000000" stroke-width="0.9"/>
<rect x="420.80" y="405.92" width="4.6" height="4.6" fill="#151515" stroke="#000000" stroke-width="0.9"/>
<polyline points="357.10,422.45 368.10,416.69 379.10,372.08 390.10,359.59 423.10,345.54" stroke="#333" stroke-width="0.9" fill="none"/>
<path d="M379.10 364.83V379.32M376.70 364.83h4.8M376.70 379.32h4.8M390.10 353.83V365.36M387.70 353.83h4.8M387.70 365.36h4.8" stroke="#2a2a2a" stroke-width="0.9" fill="none"/>
<rect x="354.80" y="420.15" width="4.6" height="4.6" fill="#4858a4" stroke="#181c48" stroke-width="0.9"/>
<rect x="365.80" y="414.39" width="4.6" height="4.6" fill="#4858a4" stroke="#181c48" stroke-width="0.9"/>
<rect x="376.80" y="369.78" width="4.6" height="4.6" fill="#4858a4" stroke="#181c48" stroke-width="0.9"/>
<rect x="387.80" y="357.29" width="4.6" height="4.6" fill="#4858a4" stroke="#181c48" stroke-width="0.9"/>
<rect x="420.80" y="343.24" width="4.6" height="4.6" fill="#4858a4" stroke="#181c48" stroke-width="0.9"/>
<polyline points="357.10,422.45 368.10,421.05 379.10,419.31 390.10,420.18 423.10,414.94" stroke="#333" stroke-width="0.9" fill="none"/>
<rect x="354.80" y="420.15" width="4.6" height="4.6" fill="#a4a4a4" stroke="#444444" stroke-width="0.9"/>
<rect x="365.80" y="418.75" width="4.6" height="4.6" fill="#a4a4a4" stroke="#444444" stroke-width="0.9"/>
<rect x="376.80" y="417.01" width="4.6" height="4.6" fill="#a4a4a4" stroke="#444444" stroke-width="0.9"/>
<rect x="387.80" y="417.88" width="4.6" height="4.6" fill="#a4a4a4" stroke="#444444" stroke-width="0.9"/>
<rect x="420.80" y="412.64" width="4.6" height="4.6" fill="#a4a4a4" stroke="#444444" stroke-width="0.9"/>
<polyline points="357.10,422.45 368.10,420.18 379.10,415.82 390.10,414.51 423.10,402.02" stroke="#333" stroke-width="0.9" fill="none"/>
<path d="M390.10 410.23V418.78M387.70 410.23h4.8M387.70 418.78h4.8M423.10 397.05V407.00M420.70 397.05h4.8M420.70 407.00h4.8" stroke="#2a2a2a" stroke-width="0.9" fill="none"/>
<rect x="354.80" y="420.15" width="4.6" height="4.6" fill="#c94646" stroke="#4a1010" stroke-width="0.9"/>
<rect x="365.80" y="417.88" width="4.6" height="4.6" fill="#c94646" stroke="#4a1010" stroke-width="0.9"/>
<rect x="376.80" y="413.52" width="4.6" height="4.6" fill="#c94646" stroke="#4a1010" stroke-width="0.9"/>
<rect x="387.80" y="412.21" width="4.6" height="4.6" fill="#c94646" stroke="#4a1010" stroke-width="0.9"/>
<rect x="420.80" y="399.72" width="4.6" height="4.6" fill="#c94646" stroke="#4a1010" stroke-width="0.9"/>
<polyline points="357.10,422.45 368.10,416.95 379.10,398.71 390.10,385.61 423.10,372.52" stroke="#333" stroke-width="0.9" fill="none"/>
<path d="M379.10 392.16V405.25M376.70 392.16h4.8M376.70 405.25h4.8M390.10 376.88V394.34M387.70 376.88h4.8M387.70 394.34h4.8M423.10 364.48V380.55M420.70 364.48h4.8M420.70 380.55h4.8" stroke="#2a2a2a" stroke-width="0.9" fill="none"/>
<rect x="354.80" y="420.15" width="4.6" height="4.6" fill="#86b474" stroke="#1d3a15" stroke-width="0.9"/>
<rect x="365.80" y="414.65" width="4.6" height="4.6" fill="#86b474" stroke="#1d3a15" stroke-width="0.9"/>
<rect x="376.80" y="396.41" width="4.6" height="4.6" fill="#86b474" stroke="#1d3a15" stroke-width="0.9"/>
<rect x="387.80" y="383.31" width="4.6" height="4.6" fill="#86b474" stroke="#1d3a15" stroke-width="0.9"/>
<rect x="420.80" y="370.22" width="4.6" height="4.6" fill="#86b474" stroke="#1d3a15" stroke-width="0.9"/>
<text x="37.00" y="115.30" text-anchor="end" font-size="8.8" fill="#222">0</text>
<text x="37.00" y="97.78" text-anchor="end" font-size="8.8" fill="#222">20</text>
<text x="37.00" y="80.26" text-anchor="end" font-size="8.8" fill="#222">40</text>
<text x="37.00" y="62.74" text-anchor="end" font-size="8.8" fill="#222">60</text>
<text x="37.00" y="45.22" text-anchor="end" font-size="8.8" fill="#222">80</text>
<text x="37.00" y="27.70" text-anchor="end" font-size="8.8" fill="#222">100</text>
<text x="37.00" y="218.40" text-anchor="end" font-size="8.8" fill="#222">0</text>
<text x="37.00" y="200.88" text-anchor="end" font-size="8.8" fill="#222">20</text>
<text x="37.00" y="183.36" text-anchor="end" font-size="8.8" fill="#222">40</text>
<text x="37.00" y="165.84" text-anchor="end" font-size="8.8" fill="#222">60</text>
<text x="37.00" y="148.32" text-anchor="end" font-size="8.8" fill="#222">80</text>
<text x="37.00" y="130.80" text-anchor="end" font-size="8.8" fill="#222">100</text>
<text x="37.00" y="321.50" text-anchor="end" font-size="8.8" fill="#222">0</text>
<text x="37.00" y="304.08" text-anchor="end" font-size="8.8" fill="#222">20</text>
<text x="37.00" y="286.66" text-anchor="end" font-size="8.8" fill="#222">40</text>
<text x="37.00" y="269.24" text-anchor="end" font-size="8.8" fill="#222">60</text>
<text x="37.00" y="251.82" text-anchor="end" font-size="8.8" fill="#222">80</text>
<text x="37.00" y="234.40" text-anchor="end" font-size="8.8" fill="#222">100</text>
<text x="37.00" y="426.00" text-anchor="end" font-size="8.8" fill="#222">0</text>
<text x="37.00" y="408.54" text-anchor="end" font-size="8.8" fill="#222">20</text>
<text x="37.00" y="391.08" text-anchor="end" font-size="8.8" fill="#222">40</text>
<text x="37.00" y="373.62" text-anchor="end" font-size="8.8" fill="#222">60</text>
<text x="37.00" y="356.16" text-anchor="end" font-size="8.8" fill="#222">80</text>
<text x="37.00" y="338.70" text-anchor="end" font-size="8.8" fill="#222">100</text>
<text x="40.20" y="434" text-anchor="middle" font-size="8.8" fill="#222">0</text>
<text x="62.20" y="434" text-anchor="middle" font-size="8.8" fill="#222">2</text>
<text x="84.20" y="434" text-anchor="middle" font-size="8.8" fill="#222">4</text>
<text x="106.20" y="434" text-anchor="middle" font-size="8.8" fill="#222">6</text>
<text x="119.50" y="434" text-anchor="middle" font-size="8.8" fill="#222">0</text>
<text x="141.50" y="434" text-anchor="middle" font-size="8.8" fill="#222">2</text>
<text x="163.50" y="434" text-anchor="middle" font-size="8.8" fill="#222">4</text>
<text x="185.50" y="434" text-anchor="middle" font-size="8.8" fill="#222">6</text>
<text x="198.85" y="434" text-anchor="middle" font-size="8.8" fill="#222">0</text>
<text x="220.85" y="434" text-anchor="middle" font-size="8.8" fill="#222">2</text>
<text x="242.85" y="434" text-anchor="middle" font-size="8.8" fill="#222">4</text>
<text x="264.85" y="434" text-anchor="middle" font-size="8.8" fill="#222">6</text>
<text x="278.10" y="434" text-anchor="middle" font-size="8.8" fill="#222">0</text>
<text x="300.10" y="434" text-anchor="middle" font-size="8.8" fill="#222">2</text>
<text x="322.10" y="434" text-anchor="middle" font-size="8.8" fill="#222">4</text>
<text x="344.10" y="434" text-anchor="middle" font-size="8.8" fill="#222">6</text>
<text x="357.10" y="434" text-anchor="middle" font-size="8.8" fill="#222">0</text>
<text x="379.10" y="434" text-anchor="middle" font-size="8.8" fill="#222">2</text>
<text x="401.10" y="434" text-anchor="middle" font-size="8.8" fill="#222">4</text>
<text x="423.10" y="434" text-anchor="middle" font-size="8.8" fill="#222">6</text>
<text x="75.20" y="11.9" text-anchor="middle" font-size="9.6" fill="#222">CD107a<tspan font-size="5" dy="-3.5">+</tspan></text>
<text x="154.50" y="11.9" text-anchor="middle" font-size="9.6" fill="#222">MIP-1β<tspan font-size="5" dy="-3.5">+</tspan></text>
<text x="233.85" y="11.9" text-anchor="middle" font-size="9.6" fill="#222">TNF-α<tspan font-size="5" dy="-3.5">+</tspan></text>
<text x="313.10" y="11.9" text-anchor="middle" font-size="9.6" fill="#222">IFN-γ<tspan font-size="5" dy="-3.5">+</tspan></text>
<text x="392.10" y="11.9" text-anchor="middle" font-size="9.6" fill="#222">CD69<tspan font-size="5" dy="-3.5">+</tspan></text>
<text x="1" y="12.4" font-size="14" font-weight="bold" fill="#111">A</text>
<text x="1" y="466.5" font-size="14" font-weight="bold" fill="#111">B</text>
<path d="M16 24V189M16 254.5V422" stroke="#8a8a8a" stroke-width="1.3" fill="none"/>
<path d="M16 21.5L14.3 26.5H17.7Z" fill="#333"/>
<text transform="translate(19.7 221.3) rotate(-90)" text-anchor="middle" font-size="9.3" fill="#222">Response (%)</text>
<path d="M39.8 443H185M284.5 443H425" stroke="#8a8a8a" stroke-width="1.3" fill="none"/>
<path d="M430 443L424.5 441.2V444.8Z" fill="#333"/>
<text x="234.2" y="446" text-anchor="middle" font-size="9.3" fill="#222">Stimulation time (hours)</text>
<rect x="437.6" y="17.20" width="5.4" height="5.2" fill="#151515" stroke="#000000" stroke-width="0.9"/>
<text x="444.6" y="22.60" font-size="7.7" fill="#222">No target</text>
<rect x="437.6" y="27.05" width="5.4" height="5.2" fill="#a4a4a4" stroke="#444444" stroke-width="0.9"/>
<text x="444.6" y="32.45" font-size="7.7" fill="#222">P815 cells</text>
<rect x="437.6" y="36.90" width="5.4" height="5.2" fill="#c94646" stroke="#4a1010" stroke-width="0.9"/>
<text x="444.6" y="42.30" font-size="7.7" fill="#222">P815 + anti-CD3</text>
<rect x="437.6" y="46.75" width="5.4" height="5.2" fill="#4858a4" stroke="#181c48" stroke-width="0.9"/>
<text x="444.6" y="52.15" font-size="7.7" fill="#222">P815 + anti-CD16</text>
<rect x="437.6" y="56.60" width="5.4" height="5.2" fill="#86b474" stroke="#1d3a15" stroke-width="0.9"/>
<text x="444.6" y="62.00" font-size="7.7" fill="#222">K562 cells</text>
<text x="475.5" y="75.80" text-anchor="middle" font-size="9" fill="#222">CD4<tspan font-size="6" dy="-3.3">−</tspan><tspan dy="3.3">CD8</tspan><tspan font-size="6" dy="-3.3">+</tspan><tspan dy="3.3">CD57</tspan><tspan font-size="6" dy="-3.3">−</tspan></text>
<text x="475.5" y="89.30" text-anchor="middle" font-size="9" fill="#222">T cells</text>
<text x="475.5" y="169.80" text-anchor="middle" font-size="9" fill="#222">CD4<tspan font-size="6" dy="-3.3">−</tspan><tspan dy="3.3">CD8</tspan><tspan font-size="6" dy="-3.3">+</tspan><tspan dy="3.3">CD57</tspan><tspan font-size="6" dy="-3.3">dim</tspan></text>
<text x="475.5" y="183.30" text-anchor="middle" font-size="9" fill="#222">T cells</text>
<text x="475.5" y="273.70" text-anchor="middle" font-size="9" fill="#222">CD4<tspan font-size="6" dy="-3.3">−</tspan><tspan dy="3.3">CD8</tspan><tspan font-size="6" dy="-3.3">+</tspan><tspan dy="3.3">CD57</tspan><tspan font-size="6" dy="-3.3">bright</tspan></text>
<text x="475.5" y="287.20" text-anchor="middle" font-size="9" fill="#222">T cells</text>
<text x="475.5" y="377.30" text-anchor="middle" font-size="9" fill="#222">CD3<tspan font-size="6" dy="-3.3">−</tspan><tspan dy="3.3">CD56</tspan><tspan font-size="6" dy="-3.3">dim</tspan></text>
<text x="475.5" y="390.80" text-anchor="middle" font-size="9" fill="#222">NK cells</text>
<path d="M69.60 526.80L69.60 486.80A40 40 0 0 1 93.67 494.85Z" fill="#303030" stroke="#7d7d7d" stroke-width="0.6" stroke-linejoin="round"/>
<path d="M69.60 526.80L93.67 494.85A40 40 0 0 1 109.58 525.40Z" fill="#565656" stroke="#7d7d7d" stroke-width="0.6" stroke-linejoin="round"/>
<path d="M69.60 526.80L109.58 525.40A40 40 0 0 1 108.99 533.75Z" fill="#727272" stroke="#7d7d7d" stroke-width="0.6" stroke-linejoin="round"/>
<path d="M69.60 526.80L108.99 533.75A40 40 0 0 1 105.85 543.70Z" fill="#8a8a8a" stroke="#7d7d7d" stroke-width="0.6" stroke-linejoin="round"/>
<path d="M69.60 526.80L105.85 543.70A40 40 0 0 1 104.24 546.80Z" fill="#9c9c9c" stroke="#7d7d7d" stroke-width="0.6" stroke-linejoin="round"/>
<path d="M69.60 526.80L104.24 546.80A40 40 0 0 1 29.82 530.98Z" fill="#bcbcbe" stroke="#7d7d7d" stroke-width="0.6" stroke-linejoin="round"/>
<path d="M69.60 526.80L29.82 530.98A40 40 0 0 1 29.60 526.80Z" fill="#dadada" stroke="#7d7d7d" stroke-width="0.6" stroke-linejoin="round"/>
<path d="M69.60 526.80L29.60 526.80A40 40 0 0 1 69.60 486.80Z" fill="#ffffff" stroke="#7d7d7d" stroke-width="0.6" stroke-linejoin="round"/>
<circle cx="69.6" cy="526.8" r="40" fill="none" stroke="#8c8c8c" stroke-width="0.7"/>
<path d="M69.60 483.40A43.4 43.4 0 0 1 112.25 534.86" fill="none" stroke="#b4262b" stroke-width="2.25"/>
<path d="M69.60 479.85A46.95 46.95 0 0 1 116.33 522.22" fill="none" stroke="#d3a940" stroke-width="2.25"/>
<path d="M115.35 537.36A46.95 46.95 0 0 1 23.00 532.52" fill="none" stroke="#d3a940" stroke-width="2.25"/>
<path d="M69.60 476.30A50.5 50.5 0 0 1 98.57 485.43" fill="none" stroke="#78a04a" stroke-width="2.25"/>
<path d="M118.90 537.73A50.5 50.5 0 0 1 113.90 551.05" fill="none" stroke="#78a04a" stroke-width="2.25"/>
<path d="M19.48 532.95A50.5 50.5 0 0 1 19.13 528.56" fill="none" stroke="#78a04a" stroke-width="2.25"/>
<path d="M69.60 472.60A54.2 54.2 0 0 1 71.96 472.65" fill="none" stroke="#34408a" stroke-width="2.25"/>
<path d="M100.69 482.40A54.2 54.2 0 0 1 102.97 484.09" fill="none" stroke="#34408a" stroke-width="2.25"/>
<path d="M116.77 553.49A54.2 54.2 0 0 1 115.56 555.52" fill="none" stroke="#34408a" stroke-width="2.25"/>
<path d="M119.87 521.96A50.5 50.5 0 0 1 120.03 524.16" fill="none" stroke="#8a8a8a" stroke-width="2.25"/>
<path d="M15.45 529.16A54.2 54.2 0 0 1 15.40 526.80" fill="none" stroke="#555" stroke-width="2.25"/>
<path d="M183.30 526.70L183.30 486.70A40 40 0 0 1 189.97 487.26Z" fill="#161616" stroke="#7d7d7d" stroke-width="0.6" stroke-linejoin="round"/>
<path d="M183.30 526.70L189.97 487.26A40 40 0 0 1 220.07 542.46Z" fill="#2e2e2e" stroke="#7d7d7d" stroke-width="0.6" stroke-linejoin="round"/>
<path d="M183.30 526.70L220.07 542.46A40 40 0 0 1 177.25 566.24Z" fill="#555555" stroke="#7d7d7d" stroke-width="0.6" stroke-linejoin="round"/>
<path d="M183.30 526.70L177.25 566.24A40 40 0 0 1 169.62 564.29Z" fill="#6a6a6a" stroke="#7d7d7d" stroke-width="0.6" stroke-linejoin="round"/>
<path d="M183.30 526.70L169.62 564.29A40 40 0 0 1 156.22 556.14Z" fill="#7e7e7e" stroke="#7d7d7d" stroke-width="0.6" stroke-linejoin="round"/>
<path d="M183.30 526.70L156.22 556.14A40 40 0 0 1 147.88 545.29Z" fill="#959595" stroke="#7d7d7d" stroke-width="0.6" stroke-linejoin="round"/>
<path d="M183.30 526.70L147.88 545.29A40 40 0 0 1 147.98 507.92Z" fill="#bcbcbe" stroke="#7d7d7d" stroke-width="0.6" stroke-linejoin="round"/>
<path d="M183.30 526.70L147.98 507.92A40 40 0 0 1 148.94 506.22Z" fill="#dddddd" stroke="#7d7d7d" stroke-width="0.6" stroke-linejoin="round"/>
<path d="M183.30 526.70L148.94 506.22A40 40 0 0 1 183.30 486.70Z" fill="#ffffff" stroke="#7d7d7d" stroke-width="0.6" stroke-linejoin="round"/>
<circle cx="183.3" cy="526.7" r="40" fill="none" stroke="#8c8c8c" stroke-width="0.7"/>
<path d="M183.30 483.30A43.4 43.4 0 1 1 154.43 559.10" fill="none" stroke="#b4262b" stroke-width="2.25"/>
<path d="M183.30 479.75A46.95 46.95 0 1 1 176.20 573.11" fill="none" stroke="#d3a940" stroke-width="2.25"/>
<path d="M151.58 561.32A46.95 46.95 0 0 1 140.71 506.93" fill="none" stroke="#d3a940" stroke-width="2.25"/>
<path d="M183.30 476.20A50.5 50.5 0 0 1 230.16 545.54" fill="none" stroke="#78a04a" stroke-width="2.25"/>
<path d="M174.79 576.48A50.5 50.5 0 0 1 166.86 574.45" fill="none" stroke="#78a04a" stroke-width="2.25"/>
<path d="M149.51 564.23A50.5 50.5 0 0 1 139.13 551.18" fill="none" stroke="#78a04a" stroke-width="2.25"/>
<path d="M137.91 504.56A50.5 50.5 0 0 1 140.01 500.69" fill="none" stroke="#78a04a" stroke-width="2.25"/>
<path d="M183.30 472.50A54.2 54.2 0 0 1 192.71 473.32" fill="none" stroke="#34408a" stroke-width="2.25"/>
<path d="M233.37 547.44A54.2 54.2 0 0 1 232.42 549.61" fill="none" stroke="#34408a" stroke-width="2.25"/>
<path d="M174.35 580.16A54.2 54.2 0 0 1 172.96 579.90" fill="none" stroke="#34408a" stroke-width="2.25"/>
<path d="M166.10 578.10A54.2 54.2 0 0 1 164.76 577.63" fill="none" stroke="#34408a" stroke-width="2.25"/>
<path d="M148.46 568.22A54.2 54.2 0 0 1 147.03 566.98" fill="none" stroke="#34408a" stroke-width="2.25"/>
<path d="M135.67 552.56A54.2 54.2 0 0 1 134.79 550.88" fill="none" stroke="#34408a" stroke-width="2.25"/>
<path d="M136.60 499.19A54.2 54.2 0 0 1 137.59 497.58" fill="none" stroke="#34408a" stroke-width="2.25"/>
<path d="M300.30 527.00L300.30 487.00A40 40 0 0 1 317.83 491.05Z" fill="#1a1a1a" stroke="#7d7d7d" stroke-width="0.6" stroke-linejoin="round"/>
<path d="M300.30 527.00L317.83 491.05A40 40 0 0 1 317.83 562.95Z" fill="#333333" stroke="#7d7d7d" stroke-width="0.6" stroke-linejoin="round"/>
<path d="M300.30 527.00L317.83 562.95A40 40 0 0 1 305.87 566.61Z" fill="#505050" stroke="#7d7d7d" stroke-width="0.6" stroke-linejoin="round"/>
<path d="M300.30 527.00L305.87 566.61A40 40 0 0 1 295.63 566.73Z" fill="#636363" stroke="#7d7d7d" stroke-width="0.6" stroke-linejoin="round"/>
<path d="M300.30 527.00L295.63 566.73A40 40 0 0 1 284.93 563.93Z" fill="#737373" stroke="#7d7d7d" stroke-width="0.6" stroke-linejoin="round"/>
<path d="M300.30 527.00L284.93 563.93A40 40 0 0 1 272.02 555.28Z" fill="#878787" stroke="#7d7d7d" stroke-width="0.6" stroke-linejoin="round"/>
<path d="M300.30 527.00L272.02 555.28A40 40 0 0 1 264.98 545.78Z" fill="#9a9a9a" stroke="#7d7d7d" stroke-width="0.6" stroke-linejoin="round"/>
<path d="M300.30 527.00L264.98 545.78A40 40 0 0 1 261.42 517.59Z" fill="#b2b2b4" stroke="#7d7d7d" stroke-width="0.6" stroke-linejoin="round"/>
<path d="M300.30 527.00L261.42 517.59A40 40 0 0 1 273.74 497.09Z" fill="#c6c6c8" stroke="#7d7d7d" stroke-width="0.6" stroke-linejoin="round"/>
<path d="M300.30 527.00L273.74 497.09A40 40 0 0 1 280.60 492.19Z" fill="#dcdcdc" stroke="#7d7d7d" stroke-width="0.6" stroke-linejoin="round"/>
<path d="M300.30 527.00L280.60 492.19A40 40 0 0 1 300.30 487.00Z" fill="#ffffff" stroke="#7d7d7d" stroke-width="0.6" stroke-linejoin="round"/>
<circle cx="300.3" cy="527.0" r="40" fill="none" stroke="#8c8c8c" stroke-width="0.7"/>
<path d="M300.30 483.60A43.4 43.4 0 1 1 270.32 558.38" fill="none" stroke="#b4262b" stroke-width="2.25"/>
<path d="M300.30 480.05A46.95 46.95 0 1 1 294.58 573.60" fill="none" stroke="#d3a940" stroke-width="2.25"/>
<path d="M266.76 559.85A46.95 46.95 0 0 1 268.46 492.50" fill="none" stroke="#d3a940" stroke-width="2.25"/>
<path d="M300.30 476.50A50.5 50.5 0 0 1 322.28 572.47" fill="none" stroke="#78a04a" stroke-width="2.25"/>
<path d="M292.40 576.88A50.5 50.5 0 0 1 276.98 571.79" fill="none" stroke="#78a04a" stroke-width="2.25"/>
<path d="M264.47 562.58A50.5 50.5 0 0 1 251.04 515.90" fill="none" stroke="#78a04a" stroke-width="2.25"/>
<path d="M267.04 489.00A50.5 50.5 0 0 1 274.67 483.49" fill="none" stroke="#78a04a" stroke-width="2.25"/>
<path d="M300.30 472.80A54.2 54.2 0 0 1 323.46 478.00" fill="none" stroke="#34408a" stroke-width="2.25"/>
<path d="M262.31 565.66A54.2 54.2 0 0 1 257.01 559.62" fill="none" stroke="#34408a" stroke-width="2.25"/>
<path d="M275.69 575.29A54.2 54.2 0 0 1 274.44 574.63" fill="none" stroke="#34408a" stroke-width="2.25"/>
<path d="M247.38 515.27A54.2 54.2 0 0 1 247.83 513.43" fill="none" stroke="#34408a" stroke-width="2.25"/>
<path d="M264.03 486.72A54.2 54.2 0 0 1 265.46 485.48" fill="none" stroke="#34408a" stroke-width="2.25"/>
<path d="M416.30 527.00L416.30 487.00A40 40 0 0 1 437.56 493.12Z" fill="#2e2e2e" stroke="#7d7d7d" stroke-width="0.6" stroke-linejoin="round"/>
<path d="M416.30 527.00L437.56 493.12A40 40 0 0 1 447.65 551.85Z" fill="#555555" stroke="#7d7d7d" stroke-width="0.6" stroke-linejoin="round"/>
<path d="M416.30 527.00L447.65 551.85A40 40 0 0 1 428.19 565.19Z" fill="#747474" stroke="#7d7d7d" stroke-width="0.6" stroke-linejoin="round"/>
<path d="M416.30 527.00L428.19 565.19A40 40 0 0 1 421.52 566.66Z" fill="#848484" stroke="#7d7d7d" stroke-width="0.6" stroke-linejoin="round"/>
<path d="M416.30 527.00L421.52 566.66A40 40 0 0 1 416.30 567.00Z" fill="#9a9a9a" stroke="#7d7d7d" stroke-width="0.6" stroke-linejoin="round"/>
<path d="M416.30 527.00L416.30 567.00A40 40 0 0 1 378.88 541.14Z" fill="#bcbcbe" stroke="#7d7d7d" stroke-width="0.6" stroke-linejoin="round"/>
<path d="M416.30 527.00L378.88 541.14A40 40 0 0 1 378.48 540.02Z" fill="#9a9a9a" stroke="#7d7d7d" stroke-width="0.6" stroke-linejoin="round"/>
<path d="M416.30 527.00L378.48 540.02A40 40 0 0 1 416.30 487.00Z" fill="#ffffff" stroke="#7d7d7d" stroke-width="0.6" stroke-linejoin="round"/>
<circle cx="416.3" cy="527.0" r="40" fill="none" stroke="#8c8c8c" stroke-width="0.7"/>
<path d="M416.30 483.60A43.4 43.4 0 0 1 424.88 569.54" fill="none" stroke="#b4262b" stroke-width="2.25"/>
<path d="M416.30 480.05A46.95 46.95 0 0 1 455.68 552.57" fill="none" stroke="#d3a940" stroke-width="2.25"/>
<path d="M424.78 573.18A46.95 46.95 0 0 1 373.15 545.50" fill="none" stroke="#d3a940" stroke-width="2.25"/>
<path d="M416.30 476.50A50.5 50.5 0 0 1 443.51 484.46" fill="none" stroke="#78a04a" stroke-width="2.25"/>
<path d="M458.65 554.50A50.5 50.5 0 0 1 456.09 558.09" fill="none" stroke="#78a04a" stroke-width="2.25"/>
<path d="M425.42 576.67A50.5 50.5 0 0 1 418.06 577.47" fill="none" stroke="#78a04a" stroke-width="2.25"/>
<path d="M369.48 545.92A50.5 50.5 0 0 1 368.55 543.44" fill="none" stroke="#78a04a" stroke-width="2.25"/>
<path d="M416.30 472.80A54.2 54.2 0 0 1 418.19 472.83" fill="none" stroke="#34408a" stroke-width="2.25"/>
<path d="M446.61 482.07A54.2 54.2 0 0 1 448.16 483.15" fill="none" stroke="#34408a" stroke-width="2.25"/>
<path d="M459.01 560.37A54.2 54.2 0 0 1 457.82 561.84" fill="none" stroke="#34408a" stroke-width="2.25"/>
<path d="M426.18 580.29A54.2 54.2 0 0 1 424.78 580.53" fill="none" stroke="#34408a" stroke-width="2.25"/>
<path d="M419.14 581.13A54.2 54.2 0 0 1 417.72 581.18" fill="none" stroke="#34408a" stroke-width="2.25"/>
<path d="M365.37 545.54A54.2 54.2 0 0 1 364.75 543.75" fill="none" stroke="#34408a" stroke-width="2.25"/>
<text x="22.3" y="466.5" font-size="9" fill="#222">CD4<tspan font-size="6" dy="-3.3">−</tspan><tspan dy="3.3">CD8</tspan><tspan font-size="6" dy="-3.3">+</tspan><tspan dy="3.3">CD57</tspan><tspan font-size="6" dy="-3.3">−</tspan><tspan dy="3.3"> T cells</tspan></text>
<text x="134.2" y="466.5" font-size="9" fill="#222">CD4<tspan font-size="6" dy="-3.3">−</tspan><tspan dy="3.3">CD8</tspan><tspan font-size="6" dy="-3.3">+</tspan><tspan dy="3.3">CD57</tspan><tspan font-size="6" dy="-3.3">dim</tspan><tspan dy="3.3"> T cells</tspan></text>
<text x="246.5" y="466.5" font-size="9" fill="#222">CD4<tspan font-size="6" dy="-3.3">−</tspan><tspan dy="3.3">CD8</tspan><tspan font-size="6" dy="-3.3">+</tspan><tspan dy="3.3">CD57</tspan><tspan font-size="6" dy="-3.3">bright</tspan><tspan dy="3.3"> T cells</tspan></text>
<text x="371.1" y="466.5" font-size="9" fill="#222">CD3<tspan font-size="6" dy="-3.3">−</tspan><tspan dy="3.3">CD56</tspan><tspan font-size="6" dy="-3.3">dim</tspan><tspan dy="3.3"> NK cells</tspan></text>
<text x="10.6" y="592.4" font-size="9.15" fill="#222">Stimulus: P815 + anti-CD3</text>
<text x="148.9" y="592.4" font-size="9.15" fill="#222">P815 + anti-CD3</text>
<text x="266.3" y="592.4" font-size="9.15" fill="#222">P815 + anti-CD3</text>
<text x="380.5" y="592.4" font-size="9.15" fill="#222">P815 + anti-CD16</text>
<rect x="473.1" y="504.90" width="5.6" height="3.2" fill="#b03535" stroke="#4a1212" stroke-width="0.9"/>
<text x="481.3" y="509.40" font-size="8" fill="#222">CD107a<tspan font-size="4.5" dy="-3">+</tspan></text>
<rect x="473.1" y="517.15" width="5.6" height="3.2" fill="#cdb56e" stroke="#5a4a20" stroke-width="0.9"/>
<text x="481.3" y="521.65" font-size="8" fill="#222">MIP-1β<tspan font-size="4.5" dy="-3">+</tspan></text>
<rect x="473.1" y="529.40" width="5.6" height="3.2" fill="#86a06a" stroke="#2e4a22" stroke-width="0.9"/>
<text x="481.3" y="533.90" font-size="8" fill="#222">TNF-α<tspan font-size="4.5" dy="-3">+</tspan></text>
<rect x="473.1" y="541.65" width="5.6" height="3.2" fill="#55589a" stroke="#22245a" stroke-width="0.9"/>
<text x="481.3" y="546.15" font-size="8" fill="#222">IFN-γ<tspan font-size="4.5" dy="-3">+</tspan></text>
</svg>
</body></html>
